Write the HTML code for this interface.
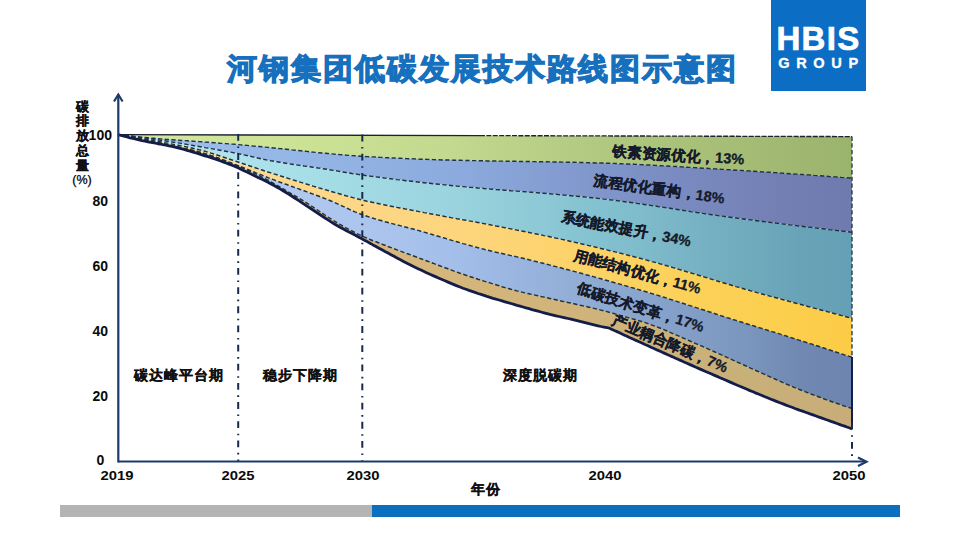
<!DOCTYPE html>
<html><head><meta charset="utf-8"><title>河钢集团低碳发展技术路线图示意图</title>
<style>
*{margin:0;padding:0;box-sizing:border-box}
html,body{width:960px;height:540px;overflow:hidden;background:#fff}
body{position:relative;font-family:"Liberation Sans",sans-serif;color:#111}
i{font-style:normal;display:inline-block;text-align:center;width:var(--w,1em)}
svg.chart{position:absolute;left:0;top:0}
.title{position:absolute;left:226.2px;top:49.3px;font-size:30px;font-weight:bold;color:#1770bd;white-space:nowrap;line-height:40px;--w:31.95px;-webkit-text-stroke:1.2px #1770bd}
.logo{position:absolute;left:771px;top:0;width:95px;height:91px;background:#0b6dc3;color:#fff;text-align:center}
.logo .h{position:absolute;left:0;width:95px;top:19.7px;font-size:33px;font-weight:bold;letter-spacing:1.3px;line-height:38px;-webkit-text-stroke:0.7px #fff}
.logo .g{position:absolute;left:3px;width:95px;top:53.5px;font-size:14.6px;font-weight:bold;letter-spacing:6.6px;line-height:18px;-webkit-text-stroke:0.3px #fff}
.t{position:absolute;white-space:nowrap;font-weight:bold;line-height:1}
.yn2{}
.pc{display:block;font-weight:normal;font-size:12.5px;color:#000;-webkit-text-stroke:0.25px #000 !important;margin-left:-4px;width:24px;line-height:14px}
.yl{position:absolute;left:74px;top:99.5px;width:16px;font-size:13px;font-weight:bold;line-height:14.8px;text-align:center;color:#111;-webkit-text-stroke:0.3px #111}
.yn{position:absolute;left:70.3px;width:60px;text-align:center;font-size:14px;font-weight:bold;line-height:16px;color:#0a0a0a}
.xn{position:absolute;top:467.8px;width:60px;text-align:center;font-size:13.5px;transform:scaleX(1.1);font-weight:bold;line-height:16px;color:#0a0a0a}
.rl{position:absolute;white-space:nowrap;font-weight:bold;line-height:1;color:#151a2a;transform-origin:0 0;--w:14.7px;-webkit-text-stroke:0.3px #151a2a}
.per{position:absolute;top:367.5px;font-size:13.5px;font-weight:bold;line-height:16px;white-space:nowrap;color:#111;--w:15.1px;-webkit-text-stroke:0.3px #111}
.bar1{position:absolute;left:60px;top:505px;width:312px;height:11.5px;background:#b4b4b4}
.bar2{position:absolute;left:372px;top:505px;width:528px;height:11.5px;background:#0b6fc0}
</style></head><body>
<div class="title" id="title"><i>河</i><i>钢</i><i>集</i><i>团</i><i>低</i><i>碳</i><i>发</i><i>展</i><i>技</i><i>术</i><i>路</i><i>线</i><i>图</i><i>示</i><i>意</i><i>图</i></div>
<div class="logo"><div class="h" id="HBIS">HBIS</div><div class="g" id="GROUP">GROUP</div></div>
<svg class="chart" width="960" height="540" viewBox="0 0 960 540">
<defs>
<linearGradient id="g1" gradientUnits="userSpaceOnUse" x1="118" y1="0" x2="852" y2="0"><stop offset="0" stop-color="#d5e7a5"/><stop offset="0.234" stop-color="#cce294"/><stop offset="0.452" stop-color="#c3d98f"/><stop offset="0.657" stop-color="#b1c880"/><stop offset="0.929" stop-color="#9fb770"/><stop offset="1" stop-color="#9bb46c"/></linearGradient>
<linearGradient id="g2" gradientUnits="userSpaceOnUse" x1="118" y1="0" x2="852" y2="0"><stop offset="0" stop-color="#a2c3ef"/><stop offset="0.18" stop-color="#97b9e8"/><stop offset="0.4" stop-color="#8eaee0"/><stop offset="0.47" stop-color="#8caadd"/><stop offset="0.752" stop-color="#7a8cc2"/><stop offset="0.929" stop-color="#727db1"/><stop offset="1" stop-color="#6f7aae"/></linearGradient>
<linearGradient id="g3" gradientUnits="userSpaceOnUse" x1="118" y1="0" x2="852" y2="0"><stop offset="0" stop-color="#bfe9f2"/><stop offset="0.2" stop-color="#aae1eb"/><stop offset="0.452" stop-color="#9bd4de"/><stop offset="0.67" stop-color="#82c0cf"/><stop offset="0.861" stop-color="#70aabd"/><stop offset="0.929" stop-color="#69a3b8"/><stop offset="1" stop-color="#64a0b5"/></linearGradient>
<linearGradient id="g4" gradientUnits="userSpaceOnUse" x1="118" y1="0" x2="852" y2="0"><stop offset="0" stop-color="#fbdc96"/><stop offset="0.25" stop-color="#fcd88a"/><stop offset="0.452" stop-color="#fdd57e"/><stop offset="0.74" stop-color="#fbd25c"/><stop offset="0.929" stop-color="#fcce4c"/><stop offset="1" stop-color="#fccc46"/></linearGradient>
<linearGradient id="g5" gradientUnits="userSpaceOnUse" x1="118" y1="0" x2="852" y2="0"><stop offset="0" stop-color="#b8d0f4"/><stop offset="0.25" stop-color="#b0c8f0"/><stop offset="0.384" stop-color="#a9c3ec"/><stop offset="0.452" stop-color="#a3bfea"/><stop offset="0.861" stop-color="#7a96bd"/><stop offset="0.929" stop-color="#7088b2"/><stop offset="1" stop-color="#6c84af"/></linearGradient>
<linearGradient id="g6" gradientUnits="userSpaceOnUse" x1="118" y1="0" x2="852" y2="0"><stop offset="0" stop-color="#d6b880"/><stop offset="0.452" stop-color="#d5b67b"/><stop offset="0.861" stop-color="#c8b079"/><stop offset="1" stop-color="#c8ad78"/></linearGradient>
</defs>
<path d="M118.0,134.6 L852.0,136.6 L852.0,178.2 L850.0,178.0 L847.0,177.8 L844.0,177.6 L841.0,177.4 L838.0,177.1 L835.0,176.9 L832.0,176.7 L829.0,176.5 L826.0,176.2 L823.0,176.0 L820.0,175.8 L817.0,175.6 L814.0,175.4 L811.0,175.1 L808.0,174.9 L805.0,174.7 L802.0,174.5 L799.0,174.3 L796.0,174.1 L793.0,173.9 L790.0,173.7 L787.0,173.5 L784.0,173.3 L781.0,173.1 L778.0,172.8 L775.0,172.6 L772.0,172.4 L769.0,172.2 L766.0,172.1 L763.0,171.9 L760.0,171.7 L757.0,171.5 L754.0,171.3 L751.0,171.1 L748.0,170.9 L745.0,170.7 L742.0,170.5 L739.0,170.3 L736.0,170.2 L733.0,170.0 L730.0,169.8 L727.0,169.6 L724.0,169.4 L721.0,169.3 L718.0,169.1 L715.0,168.9 L712.0,168.7 L709.0,168.5 L706.0,168.3 L703.0,168.2 L700.0,168.0 L697.0,167.8 L694.0,167.6 L691.0,167.4 L688.0,167.3 L685.0,167.1 L682.0,166.9 L679.0,166.7 L676.0,166.5 L673.0,166.4 L670.0,166.2 L667.0,166.0 L664.0,165.9 L661.0,165.7 L658.0,165.5 L655.0,165.4 L652.0,165.2 L649.0,165.0 L646.0,164.9 L643.0,164.7 L640.0,164.6 L637.0,164.4 L634.0,164.3 L631.0,164.2 L628.0,164.0 L625.0,163.9 L622.0,163.8 L619.0,163.7 L616.0,163.5 L613.0,163.4 L610.0,163.3 L607.0,163.2 L604.0,163.1 L601.0,163.0 L598.0,162.9 L595.0,162.9 L592.0,162.8 L589.0,162.7 L586.0,162.6 L583.0,162.5 L580.0,162.5 L577.0,162.4 L574.0,162.3 L571.0,162.3 L568.0,162.2 L565.0,162.2 L562.0,162.1 L559.0,162.0 L556.0,162.0 L553.0,161.9 L550.0,161.9 L547.0,161.8 L544.0,161.8 L541.0,161.7 L538.0,161.7 L535.0,161.6 L532.0,161.6 L529.0,161.5 L526.0,161.5 L523.0,161.4 L520.0,161.4 L517.0,161.3 L514.0,161.3 L511.0,161.3 L508.0,161.2 L505.0,161.2 L502.0,161.1 L499.0,161.1 L496.0,161.0 L493.0,161.0 L490.0,160.9 L487.0,160.9 L484.0,160.8 L481.0,160.7 L478.0,160.7 L475.0,160.6 L472.0,160.6 L469.0,160.5 L466.0,160.4 L463.0,160.4 L460.0,160.3 L457.0,160.2 L454.0,160.2 L451.0,160.1 L448.0,160.0 L445.0,159.9 L442.0,159.9 L439.0,159.8 L436.0,159.7 L433.0,159.6 L430.0,159.5 L427.0,159.4 L424.0,159.3 L421.0,159.2 L418.0,159.1 L415.0,158.9 L412.0,158.8 L409.0,158.7 L406.0,158.6 L403.0,158.4 L400.0,158.3 L397.0,158.2 L394.0,158.0 L391.0,157.9 L388.0,157.7 L385.0,157.6 L382.0,157.4 L379.0,157.3 L376.0,157.1 L373.0,156.9 L370.0,156.8 L367.0,156.6 L364.0,156.4 L361.0,156.2 L358.0,156.0 L355.0,155.8 L352.0,155.6 L349.0,155.4 L346.0,155.1 L343.0,154.9 L340.0,154.6 L337.0,154.3 L334.0,154.1 L331.0,153.8 L328.0,153.5 L325.0,153.2 L322.0,153.0 L319.0,152.7 L316.0,152.4 L313.0,152.1 L310.0,151.8 L307.0,151.4 L304.0,151.1 L301.0,150.8 L298.0,150.5 L295.0,150.2 L292.0,149.9 L289.0,149.5 L286.0,149.2 L283.0,148.9 L280.0,148.6 L277.0,148.3 L274.0,148.0 L271.0,147.7 L268.0,147.4 L265.0,147.1 L262.0,146.8 L259.0,146.5 L256.0,146.2 L253.0,146.0 L250.0,145.7 L247.0,145.4 L244.0,145.1 L241.0,144.9 L238.0,144.6 L235.0,144.3 L232.0,144.1 L229.0,143.9 L226.0,143.6 L223.0,143.4 L220.0,143.2 L217.0,142.9 L214.0,142.7 L211.0,142.5 L208.0,142.3 L205.0,142.1 L202.0,141.8 L199.0,141.6 L196.0,141.4 L193.0,141.2 L190.0,141.0 L187.0,140.8 L184.0,140.6 L181.0,140.5 L178.0,140.3 L175.0,140.0 L172.0,139.8 L169.0,139.6 L166.0,139.4 L163.0,139.1 L160.0,138.9 L157.0,138.6 L154.0,138.3 L151.0,138.1 L148.0,137.8 L145.0,137.5 L142.0,137.2 L139.0,136.9 L136.0,136.6 L133.0,136.3 L130.0,135.9 L127.0,135.6 L124.0,135.3 L121.0,134.9 L118.0,134.6 Z" fill="url(#g1)"/>
<path d="M118.0,134.6 L121.0,134.9 L124.0,135.3 L127.0,135.6 L130.0,135.9 L133.0,136.3 L136.0,136.6 L139.0,136.9 L142.0,137.2 L145.0,137.5 L148.0,137.8 L151.0,138.1 L154.0,138.3 L157.0,138.6 L160.0,138.9 L163.0,139.1 L166.0,139.4 L169.0,139.6 L172.0,139.8 L175.0,140.0 L178.0,140.3 L181.0,140.5 L184.0,140.6 L187.0,140.8 L190.0,141.0 L193.0,141.2 L196.0,141.4 L199.0,141.6 L202.0,141.8 L205.0,142.1 L208.0,142.3 L211.0,142.5 L214.0,142.7 L217.0,142.9 L220.0,143.2 L223.0,143.4 L226.0,143.6 L229.0,143.9 L232.0,144.1 L235.0,144.3 L238.0,144.6 L241.0,144.9 L244.0,145.1 L247.0,145.4 L250.0,145.7 L253.0,146.0 L256.0,146.2 L259.0,146.5 L262.0,146.8 L265.0,147.1 L268.0,147.4 L271.0,147.7 L274.0,148.0 L277.0,148.3 L280.0,148.6 L283.0,148.9 L286.0,149.2 L289.0,149.5 L292.0,149.9 L295.0,150.2 L298.0,150.5 L301.0,150.8 L304.0,151.1 L307.0,151.4 L310.0,151.8 L313.0,152.1 L316.0,152.4 L319.0,152.7 L322.0,153.0 L325.0,153.2 L328.0,153.5 L331.0,153.8 L334.0,154.1 L337.0,154.3 L340.0,154.6 L343.0,154.9 L346.0,155.1 L349.0,155.4 L352.0,155.6 L355.0,155.8 L358.0,156.0 L361.0,156.2 L364.0,156.4 L367.0,156.6 L370.0,156.8 L373.0,156.9 L376.0,157.1 L379.0,157.3 L382.0,157.4 L385.0,157.6 L388.0,157.7 L391.0,157.9 L394.0,158.0 L397.0,158.2 L400.0,158.3 L403.0,158.4 L406.0,158.6 L409.0,158.7 L412.0,158.8 L415.0,158.9 L418.0,159.1 L421.0,159.2 L424.0,159.3 L427.0,159.4 L430.0,159.5 L433.0,159.6 L436.0,159.7 L439.0,159.8 L442.0,159.9 L445.0,159.9 L448.0,160.0 L451.0,160.1 L454.0,160.2 L457.0,160.2 L460.0,160.3 L463.0,160.4 L466.0,160.4 L469.0,160.5 L472.0,160.6 L475.0,160.6 L478.0,160.7 L481.0,160.7 L484.0,160.8 L487.0,160.9 L490.0,160.9 L493.0,161.0 L496.0,161.0 L499.0,161.1 L502.0,161.1 L505.0,161.2 L508.0,161.2 L511.0,161.3 L514.0,161.3 L517.0,161.3 L520.0,161.4 L523.0,161.4 L526.0,161.5 L529.0,161.5 L532.0,161.6 L535.0,161.6 L538.0,161.7 L541.0,161.7 L544.0,161.8 L547.0,161.8 L550.0,161.9 L553.0,161.9 L556.0,162.0 L559.0,162.0 L562.0,162.1 L565.0,162.2 L568.0,162.2 L571.0,162.3 L574.0,162.3 L577.0,162.4 L580.0,162.5 L583.0,162.5 L586.0,162.6 L589.0,162.7 L592.0,162.8 L595.0,162.9 L598.0,162.9 L601.0,163.0 L604.0,163.1 L607.0,163.2 L610.0,163.3 L613.0,163.4 L616.0,163.5 L619.0,163.7 L622.0,163.8 L625.0,163.9 L628.0,164.0 L631.0,164.2 L634.0,164.3 L637.0,164.4 L640.0,164.6 L643.0,164.7 L646.0,164.9 L649.0,165.0 L652.0,165.2 L655.0,165.4 L658.0,165.5 L661.0,165.7 L664.0,165.9 L667.0,166.0 L670.0,166.2 L673.0,166.4 L676.0,166.5 L679.0,166.7 L682.0,166.9 L685.0,167.1 L688.0,167.3 L691.0,167.4 L694.0,167.6 L697.0,167.8 L700.0,168.0 L703.0,168.2 L706.0,168.3 L709.0,168.5 L712.0,168.7 L715.0,168.9 L718.0,169.1 L721.0,169.3 L724.0,169.4 L727.0,169.6 L730.0,169.8 L733.0,170.0 L736.0,170.2 L739.0,170.3 L742.0,170.5 L745.0,170.7 L748.0,170.9 L751.0,171.1 L754.0,171.3 L757.0,171.5 L760.0,171.7 L763.0,171.9 L766.0,172.1 L769.0,172.2 L772.0,172.4 L775.0,172.6 L778.0,172.8 L781.0,173.1 L784.0,173.3 L787.0,173.5 L790.0,173.7 L793.0,173.9 L796.0,174.1 L799.0,174.3 L802.0,174.5 L805.0,174.7 L808.0,174.9 L811.0,175.1 L814.0,175.4 L817.0,175.6 L820.0,175.8 L823.0,176.0 L826.0,176.2 L829.0,176.5 L832.0,176.7 L835.0,176.9 L838.0,177.1 L841.0,177.4 L844.0,177.6 L847.0,177.8 L850.0,178.0 L852.0,178.2 L852.0,232.2 L850.0,232.0 L847.0,231.6 L844.0,231.3 L841.0,230.9 L838.0,230.6 L835.0,230.3 L832.0,229.9 L829.0,229.6 L826.0,229.2 L823.0,228.8 L820.0,228.5 L817.0,228.1 L814.0,227.8 L811.0,227.4 L808.0,227.1 L805.0,226.7 L802.0,226.3 L799.0,226.0 L796.0,225.6 L793.0,225.2 L790.0,224.9 L787.0,224.5 L784.0,224.1 L781.0,223.8 L778.0,223.4 L775.0,223.0 L772.0,222.6 L769.0,222.2 L766.0,221.9 L763.0,221.5 L760.0,221.1 L757.0,220.7 L754.0,220.3 L751.0,219.9 L748.0,219.6 L745.0,219.2 L742.0,218.8 L739.0,218.4 L736.0,218.0 L733.0,217.6 L730.0,217.2 L727.0,216.8 L724.0,216.4 L721.0,216.0 L718.0,215.6 L715.0,215.1 L712.0,214.7 L709.0,214.3 L706.0,213.8 L703.0,213.4 L700.0,212.9 L697.0,212.5 L694.0,212.0 L691.0,211.6 L688.0,211.1 L685.0,210.6 L682.0,210.2 L679.0,209.7 L676.0,209.2 L673.0,208.8 L670.0,208.3 L667.0,207.9 L664.0,207.4 L661.0,206.9 L658.0,206.5 L655.0,206.0 L652.0,205.6 L649.0,205.1 L646.0,204.7 L643.0,204.2 L640.0,203.8 L637.0,203.4 L634.0,202.9 L631.0,202.5 L628.0,202.1 L625.0,201.7 L622.0,201.3 L619.0,200.9 L616.0,200.5 L613.0,200.1 L610.0,199.8 L607.0,199.4 L604.0,199.1 L601.0,198.7 L598.0,198.4 L595.0,198.1 L592.0,197.7 L589.0,197.4 L586.0,197.1 L583.0,196.8 L580.0,196.5 L577.0,196.2 L574.0,196.0 L571.0,195.7 L568.0,195.4 L565.0,195.1 L562.0,194.9 L559.0,194.6 L556.0,194.3 L553.0,194.1 L550.0,193.8 L547.0,193.6 L544.0,193.3 L541.0,193.1 L538.0,192.8 L535.0,192.6 L532.0,192.3 L529.0,192.1 L526.0,191.8 L523.0,191.6 L520.0,191.4 L517.0,191.1 L514.0,190.9 L511.0,190.7 L508.0,190.4 L505.0,190.2 L502.0,189.9 L499.0,189.7 L496.0,189.5 L493.0,189.2 L490.0,189.0 L487.0,188.7 L484.0,188.5 L481.0,188.2 L478.0,188.0 L475.0,187.7 L472.0,187.4 L469.0,187.2 L466.0,186.9 L463.0,186.6 L460.0,186.4 L457.0,186.1 L454.0,185.8 L451.0,185.5 L448.0,185.2 L445.0,184.9 L442.0,184.6 L439.0,184.3 L436.0,184.0 L433.0,183.7 L430.0,183.3 L427.0,183.0 L424.0,182.7 L421.0,182.4 L418.0,182.0 L415.0,181.7 L412.0,181.3 L409.0,181.0 L406.0,180.7 L403.0,180.3 L400.0,179.9 L397.0,179.6 L394.0,179.2 L391.0,178.8 L388.0,178.5 L385.0,178.1 L382.0,177.7 L379.0,177.3 L376.0,176.9 L373.0,176.5 L370.0,176.1 L367.0,175.7 L364.0,175.3 L361.0,174.9 L358.0,174.4 L355.0,173.9 L352.0,173.5 L349.0,173.0 L346.0,172.5 L343.0,172.0 L340.0,171.5 L337.0,170.9 L334.0,170.4 L331.0,170.0 L328.0,169.5 L325.0,169.0 L322.0,168.6 L319.0,168.1 L316.0,167.7 L313.0,167.3 L310.0,166.8 L307.0,166.4 L304.0,166.0 L301.0,165.5 L298.0,165.1 L295.0,164.7 L292.0,164.2 L289.0,163.8 L286.0,163.3 L283.0,162.8 L280.0,162.3 L277.0,161.8 L274.0,161.3 L271.0,160.8 L268.0,160.2 L265.0,159.6 L262.0,159.0 L259.0,158.3 L256.0,157.6 L253.0,156.9 L250.0,156.2 L247.0,155.5 L244.0,154.9 L241.0,154.2 L238.0,153.6 L235.0,153.0 L232.0,152.4 L229.0,151.9 L226.0,151.3 L223.0,150.8 L220.0,150.2 L217.0,149.7 L214.0,149.1 L211.0,148.6 L208.0,148.1 L205.0,147.6 L202.0,147.0 L199.0,146.5 L196.0,146.0 L193.0,145.5 L190.0,145.0 L187.0,144.4 L184.0,143.9 L181.0,143.4 L178.0,142.9 L175.0,142.4 L172.0,142.0 L169.0,141.5 L166.0,141.0 L163.0,140.6 L160.0,140.2 L157.0,139.7 L154.0,139.3 L151.0,138.9 L148.0,138.4 L145.0,138.0 L142.0,137.6 L139.0,137.2 L136.0,136.8 L133.0,136.4 L130.0,136.0 L127.0,135.7 L124.0,135.3 L121.0,134.9 L118.0,134.6 Z" fill="url(#g2)"/>
<path d="M118.0,134.6 L121.0,134.9 L124.0,135.3 L127.0,135.7 L130.0,136.0 L133.0,136.4 L136.0,136.8 L139.0,137.2 L142.0,137.6 L145.0,138.0 L148.0,138.4 L151.0,138.9 L154.0,139.3 L157.0,139.7 L160.0,140.2 L163.0,140.6 L166.0,141.0 L169.0,141.5 L172.0,142.0 L175.0,142.4 L178.0,142.9 L181.0,143.4 L184.0,143.9 L187.0,144.4 L190.0,145.0 L193.0,145.5 L196.0,146.0 L199.0,146.5 L202.0,147.0 L205.0,147.6 L208.0,148.1 L211.0,148.6 L214.0,149.1 L217.0,149.7 L220.0,150.2 L223.0,150.8 L226.0,151.3 L229.0,151.9 L232.0,152.4 L235.0,153.0 L238.0,153.6 L241.0,154.2 L244.0,154.9 L247.0,155.5 L250.0,156.2 L253.0,156.9 L256.0,157.6 L259.0,158.3 L262.0,159.0 L265.0,159.6 L268.0,160.2 L271.0,160.8 L274.0,161.3 L277.0,161.8 L280.0,162.3 L283.0,162.8 L286.0,163.3 L289.0,163.8 L292.0,164.2 L295.0,164.7 L298.0,165.1 L301.0,165.5 L304.0,166.0 L307.0,166.4 L310.0,166.8 L313.0,167.3 L316.0,167.7 L319.0,168.1 L322.0,168.6 L325.0,169.0 L328.0,169.5 L331.0,170.0 L334.0,170.4 L337.0,170.9 L340.0,171.5 L343.0,172.0 L346.0,172.5 L349.0,173.0 L352.0,173.5 L355.0,173.9 L358.0,174.4 L361.0,174.9 L364.0,175.3 L367.0,175.7 L370.0,176.1 L373.0,176.5 L376.0,176.9 L379.0,177.3 L382.0,177.7 L385.0,178.1 L388.0,178.5 L391.0,178.8 L394.0,179.2 L397.0,179.6 L400.0,179.9 L403.0,180.3 L406.0,180.7 L409.0,181.0 L412.0,181.3 L415.0,181.7 L418.0,182.0 L421.0,182.4 L424.0,182.7 L427.0,183.0 L430.0,183.3 L433.0,183.7 L436.0,184.0 L439.0,184.3 L442.0,184.6 L445.0,184.9 L448.0,185.2 L451.0,185.5 L454.0,185.8 L457.0,186.1 L460.0,186.4 L463.0,186.6 L466.0,186.9 L469.0,187.2 L472.0,187.4 L475.0,187.7 L478.0,188.0 L481.0,188.2 L484.0,188.5 L487.0,188.7 L490.0,189.0 L493.0,189.2 L496.0,189.5 L499.0,189.7 L502.0,189.9 L505.0,190.2 L508.0,190.4 L511.0,190.7 L514.0,190.9 L517.0,191.1 L520.0,191.4 L523.0,191.6 L526.0,191.8 L529.0,192.1 L532.0,192.3 L535.0,192.6 L538.0,192.8 L541.0,193.1 L544.0,193.3 L547.0,193.6 L550.0,193.8 L553.0,194.1 L556.0,194.3 L559.0,194.6 L562.0,194.9 L565.0,195.1 L568.0,195.4 L571.0,195.7 L574.0,196.0 L577.0,196.2 L580.0,196.5 L583.0,196.8 L586.0,197.1 L589.0,197.4 L592.0,197.7 L595.0,198.1 L598.0,198.4 L601.0,198.7 L604.0,199.1 L607.0,199.4 L610.0,199.8 L613.0,200.1 L616.0,200.5 L619.0,200.9 L622.0,201.3 L625.0,201.7 L628.0,202.1 L631.0,202.5 L634.0,202.9 L637.0,203.4 L640.0,203.8 L643.0,204.2 L646.0,204.7 L649.0,205.1 L652.0,205.6 L655.0,206.0 L658.0,206.5 L661.0,206.9 L664.0,207.4 L667.0,207.9 L670.0,208.3 L673.0,208.8 L676.0,209.2 L679.0,209.7 L682.0,210.2 L685.0,210.6 L688.0,211.1 L691.0,211.6 L694.0,212.0 L697.0,212.5 L700.0,212.9 L703.0,213.4 L706.0,213.8 L709.0,214.3 L712.0,214.7 L715.0,215.1 L718.0,215.6 L721.0,216.0 L724.0,216.4 L727.0,216.8 L730.0,217.2 L733.0,217.6 L736.0,218.0 L739.0,218.4 L742.0,218.8 L745.0,219.2 L748.0,219.6 L751.0,219.9 L754.0,220.3 L757.0,220.7 L760.0,221.1 L763.0,221.5 L766.0,221.9 L769.0,222.2 L772.0,222.6 L775.0,223.0 L778.0,223.4 L781.0,223.8 L784.0,224.1 L787.0,224.5 L790.0,224.9 L793.0,225.2 L796.0,225.6 L799.0,226.0 L802.0,226.3 L805.0,226.7 L808.0,227.1 L811.0,227.4 L814.0,227.8 L817.0,228.1 L820.0,228.5 L823.0,228.8 L826.0,229.2 L829.0,229.6 L832.0,229.9 L835.0,230.3 L838.0,230.6 L841.0,230.9 L844.0,231.3 L847.0,231.6 L850.0,232.0 L852.0,232.2 L852.0,318.3 L850.0,317.8 L847.0,317.0 L844.0,316.2 L841.0,315.4 L838.0,314.6 L835.0,313.8 L832.0,312.9 L829.0,312.1 L826.0,311.3 L823.0,310.5 L820.0,309.7 L817.0,308.9 L814.0,308.1 L811.0,307.3 L808.0,306.5 L805.0,305.7 L802.0,304.8 L799.0,304.0 L796.0,303.2 L793.0,302.4 L790.0,301.6 L787.0,300.8 L784.0,300.0 L781.0,299.1 L778.0,298.3 L775.0,297.5 L772.0,296.7 L769.0,295.9 L766.0,295.1 L763.0,294.2 L760.0,293.4 L757.0,292.6 L754.0,291.7 L751.0,290.9 L748.0,290.0 L745.0,289.2 L742.0,288.3 L739.0,287.4 L736.0,286.6 L733.0,285.7 L730.0,284.8 L727.0,283.9 L724.0,283.0 L721.0,282.1 L718.0,281.2 L715.0,280.3 L712.0,279.4 L709.0,278.5 L706.0,277.5 L703.0,276.6 L700.0,275.7 L697.0,274.8 L694.0,273.9 L691.0,273.0 L688.0,272.1 L685.0,271.2 L682.0,270.3 L679.0,269.4 L676.0,268.5 L673.0,267.6 L670.0,266.7 L667.0,265.8 L664.0,265.0 L661.0,264.1 L658.0,263.2 L655.0,262.4 L652.0,261.6 L649.0,260.7 L646.0,259.9 L643.0,259.1 L640.0,258.3 L637.0,257.5 L634.0,256.7 L631.0,256.0 L628.0,255.2 L625.0,254.4 L622.0,253.6 L619.0,252.9 L616.0,252.1 L613.0,251.4 L610.0,250.7 L607.0,249.9 L604.0,249.2 L601.0,248.5 L598.0,247.7 L595.0,247.0 L592.0,246.3 L589.0,245.6 L586.0,244.9 L583.0,244.2 L580.0,243.5 L577.0,242.8 L574.0,242.1 L571.0,241.5 L568.0,240.8 L565.0,240.1 L562.0,239.4 L559.0,238.8 L556.0,238.1 L553.0,237.5 L550.0,236.8 L547.0,236.2 L544.0,235.6 L541.0,234.9 L538.0,234.3 L535.0,233.7 L532.0,233.1 L529.0,232.5 L526.0,231.9 L523.0,231.3 L520.0,230.7 L517.0,230.1 L514.0,229.5 L511.0,228.9 L508.0,228.3 L505.0,227.7 L502.0,227.1 L499.0,226.5 L496.0,226.0 L493.0,225.4 L490.0,224.8 L487.0,224.2 L484.0,223.6 L481.0,223.1 L478.0,222.5 L475.0,222.0 L472.0,221.4 L469.0,220.9 L466.0,220.3 L463.0,219.8 L460.0,219.2 L457.0,218.7 L454.0,218.1 L451.0,217.6 L448.0,217.0 L445.0,216.5 L442.0,215.9 L439.0,215.4 L436.0,214.8 L433.0,214.3 L430.0,213.7 L427.0,213.1 L424.0,212.6 L421.0,212.0 L418.0,211.4 L415.0,210.8 L412.0,210.3 L409.0,209.7 L406.0,209.1 L403.0,208.5 L400.0,208.0 L397.0,207.4 L394.0,206.8 L391.0,206.2 L388.0,205.6 L385.0,205.0 L382.0,204.4 L379.0,203.8 L376.0,203.2 L373.0,202.5 L370.0,201.8 L367.0,201.2 L364.0,200.5 L361.0,199.8 L358.0,199.0 L355.0,198.2 L352.0,197.4 L349.0,196.6 L346.0,195.8 L343.0,194.9 L340.0,194.0 L337.0,193.1 L334.0,192.3 L331.0,191.4 L328.0,190.5 L325.0,189.6 L322.0,188.7 L319.0,187.9 L316.0,187.0 L313.0,186.1 L310.0,185.1 L307.0,184.2 L304.0,183.3 L301.0,182.4 L298.0,181.5 L295.0,180.5 L292.0,179.6 L289.0,178.6 L286.0,177.7 L283.0,176.7 L280.0,175.8 L277.0,174.8 L274.0,173.9 L271.0,172.9 L268.0,172.0 L265.0,171.0 L262.0,170.0 L259.0,169.0 L256.0,168.0 L253.0,167.0 L250.0,166.0 L247.0,165.0 L244.0,164.0 L241.0,163.0 L238.0,162.0 L235.0,161.0 L232.0,160.0 L229.0,159.0 L226.0,158.0 L223.0,157.0 L220.0,156.0 L217.0,155.0 L214.0,154.0 L211.0,153.1 L208.0,152.2 L205.0,151.3 L202.0,150.5 L199.0,149.8 L196.0,149.0 L193.0,148.3 L190.0,147.7 L187.0,147.0 L184.0,146.4 L181.0,145.8 L178.0,145.2 L175.0,144.7 L172.0,144.1 L169.0,143.5 L166.0,142.9 L163.0,142.4 L160.0,141.8 L157.0,141.2 L154.0,140.7 L151.0,140.1 L148.0,139.6 L145.0,139.1 L142.0,138.5 L139.0,138.0 L136.0,137.5 L133.0,137.0 L130.0,136.5 L127.0,136.0 L124.0,135.5 L121.0,135.1 L118.0,134.6 Z" fill="url(#g3)"/>
<path d="M118.0,134.6 L121.0,135.1 L124.0,135.5 L127.0,136.0 L130.0,136.5 L133.0,137.0 L136.0,137.5 L139.0,138.0 L142.0,138.5 L145.0,139.1 L148.0,139.6 L151.0,140.1 L154.0,140.7 L157.0,141.2 L160.0,141.8 L163.0,142.4 L166.0,142.9 L169.0,143.5 L172.0,144.1 L175.0,144.7 L178.0,145.2 L181.0,145.8 L184.0,146.4 L187.0,147.0 L190.0,147.7 L193.0,148.3 L196.0,149.0 L199.0,149.8 L202.0,150.5 L205.0,151.3 L208.0,152.2 L211.0,153.1 L214.0,154.0 L217.0,155.0 L220.0,156.0 L223.0,157.0 L226.0,158.0 L229.0,159.0 L232.0,160.0 L235.0,161.0 L238.0,162.0 L241.0,163.0 L244.0,164.0 L247.0,165.0 L250.0,166.0 L253.0,167.0 L256.0,168.0 L259.0,169.0 L262.0,170.0 L265.0,171.0 L268.0,172.0 L271.0,172.9 L274.0,173.9 L277.0,174.8 L280.0,175.8 L283.0,176.7 L286.0,177.7 L289.0,178.6 L292.0,179.6 L295.0,180.5 L298.0,181.5 L301.0,182.4 L304.0,183.3 L307.0,184.2 L310.0,185.1 L313.0,186.1 L316.0,187.0 L319.0,187.9 L322.0,188.7 L325.0,189.6 L328.0,190.5 L331.0,191.4 L334.0,192.3 L337.0,193.1 L340.0,194.0 L343.0,194.9 L346.0,195.8 L349.0,196.6 L352.0,197.4 L355.0,198.2 L358.0,199.0 L361.0,199.8 L364.0,200.5 L367.0,201.2 L370.0,201.8 L373.0,202.5 L376.0,203.2 L379.0,203.8 L382.0,204.4 L385.0,205.0 L388.0,205.6 L391.0,206.2 L394.0,206.8 L397.0,207.4 L400.0,208.0 L403.0,208.5 L406.0,209.1 L409.0,209.7 L412.0,210.3 L415.0,210.8 L418.0,211.4 L421.0,212.0 L424.0,212.6 L427.0,213.1 L430.0,213.7 L433.0,214.3 L436.0,214.8 L439.0,215.4 L442.0,215.9 L445.0,216.5 L448.0,217.0 L451.0,217.6 L454.0,218.1 L457.0,218.7 L460.0,219.2 L463.0,219.8 L466.0,220.3 L469.0,220.9 L472.0,221.4 L475.0,222.0 L478.0,222.5 L481.0,223.1 L484.0,223.6 L487.0,224.2 L490.0,224.8 L493.0,225.4 L496.0,226.0 L499.0,226.5 L502.0,227.1 L505.0,227.7 L508.0,228.3 L511.0,228.9 L514.0,229.5 L517.0,230.1 L520.0,230.7 L523.0,231.3 L526.0,231.9 L529.0,232.5 L532.0,233.1 L535.0,233.7 L538.0,234.3 L541.0,234.9 L544.0,235.6 L547.0,236.2 L550.0,236.8 L553.0,237.5 L556.0,238.1 L559.0,238.8 L562.0,239.4 L565.0,240.1 L568.0,240.8 L571.0,241.5 L574.0,242.1 L577.0,242.8 L580.0,243.5 L583.0,244.2 L586.0,244.9 L589.0,245.6 L592.0,246.3 L595.0,247.0 L598.0,247.7 L601.0,248.5 L604.0,249.2 L607.0,249.9 L610.0,250.7 L613.0,251.4 L616.0,252.1 L619.0,252.9 L622.0,253.6 L625.0,254.4 L628.0,255.2 L631.0,256.0 L634.0,256.7 L637.0,257.5 L640.0,258.3 L643.0,259.1 L646.0,259.9 L649.0,260.7 L652.0,261.6 L655.0,262.4 L658.0,263.2 L661.0,264.1 L664.0,265.0 L667.0,265.8 L670.0,266.7 L673.0,267.6 L676.0,268.5 L679.0,269.4 L682.0,270.3 L685.0,271.2 L688.0,272.1 L691.0,273.0 L694.0,273.9 L697.0,274.8 L700.0,275.7 L703.0,276.6 L706.0,277.5 L709.0,278.5 L712.0,279.4 L715.0,280.3 L718.0,281.2 L721.0,282.1 L724.0,283.0 L727.0,283.9 L730.0,284.8 L733.0,285.7 L736.0,286.6 L739.0,287.4 L742.0,288.3 L745.0,289.2 L748.0,290.0 L751.0,290.9 L754.0,291.7 L757.0,292.6 L760.0,293.4 L763.0,294.2 L766.0,295.1 L769.0,295.9 L772.0,296.7 L775.0,297.5 L778.0,298.3 L781.0,299.1 L784.0,300.0 L787.0,300.8 L790.0,301.6 L793.0,302.4 L796.0,303.2 L799.0,304.0 L802.0,304.8 L805.0,305.7 L808.0,306.5 L811.0,307.3 L814.0,308.1 L817.0,308.9 L820.0,309.7 L823.0,310.5 L826.0,311.3 L829.0,312.1 L832.0,312.9 L835.0,313.8 L838.0,314.6 L841.0,315.4 L844.0,316.2 L847.0,317.0 L850.0,317.8 L852.0,318.3 L852.0,357.3 L850.0,356.6 L847.0,355.6 L844.0,354.7 L841.0,353.7 L838.0,352.7 L835.0,351.7 L832.0,350.7 L829.0,349.7 L826.0,348.8 L823.0,347.8 L820.0,346.8 L817.0,345.8 L814.0,344.9 L811.0,343.9 L808.0,342.9 L805.0,342.0 L802.0,341.0 L799.0,340.1 L796.0,339.1 L793.0,338.2 L790.0,337.2 L787.0,336.3 L784.0,335.3 L781.0,334.4 L778.0,333.4 L775.0,332.5 L772.0,331.6 L769.0,330.7 L766.0,329.7 L763.0,328.8 L760.0,327.9 L757.0,327.0 L754.0,326.0 L751.0,325.1 L748.0,324.2 L745.0,323.3 L742.0,322.3 L739.0,321.4 L736.0,320.4 L733.0,319.5 L730.0,318.5 L727.0,317.6 L724.0,316.6 L721.0,315.7 L718.0,314.7 L715.0,313.7 L712.0,312.7 L709.0,311.8 L706.0,310.8 L703.0,309.8 L700.0,308.9 L697.0,307.9 L694.0,306.9 L691.0,305.9 L688.0,305.0 L685.0,304.0 L682.0,303.0 L679.0,302.1 L676.0,301.1 L673.0,300.1 L670.0,299.2 L667.0,298.2 L664.0,297.3 L661.0,296.4 L658.0,295.4 L655.0,294.5 L652.0,293.6 L649.0,292.7 L646.0,291.8 L643.0,290.9 L640.0,290.0 L637.0,289.1 L634.0,288.2 L631.0,287.4 L628.0,286.5 L625.0,285.6 L622.0,284.8 L619.0,283.9 L616.0,283.1 L613.0,282.2 L610.0,281.3 L607.0,280.5 L604.0,279.7 L601.0,278.8 L598.0,278.0 L595.0,277.1 L592.0,276.3 L589.0,275.5 L586.0,274.7 L583.0,273.8 L580.0,273.0 L577.0,272.2 L574.0,271.4 L571.0,270.6 L568.0,269.8 L565.0,269.0 L562.0,268.2 L559.0,267.4 L556.0,266.6 L553.0,265.9 L550.0,265.1 L547.0,264.3 L544.0,263.5 L541.0,262.8 L538.0,262.0 L535.0,261.3 L532.0,260.5 L529.0,259.8 L526.0,259.0 L523.0,258.3 L520.0,257.6 L517.0,256.9 L514.0,256.2 L511.0,255.6 L508.0,254.9 L505.0,254.2 L502.0,253.5 L499.0,252.8 L496.0,252.2 L493.0,251.5 L490.0,250.7 L487.0,250.0 L484.0,249.3 L481.0,248.5 L478.0,247.7 L475.0,246.9 L472.0,246.1 L469.0,245.2 L466.0,244.4 L463.0,243.6 L460.0,242.7 L457.0,241.8 L454.0,241.0 L451.0,240.1 L448.0,239.2 L445.0,238.3 L442.0,237.4 L439.0,236.5 L436.0,235.6 L433.0,234.8 L430.0,233.9 L427.0,233.0 L424.0,232.1 L421.0,231.3 L418.0,230.4 L415.0,229.6 L412.0,228.8 L409.0,228.0 L406.0,227.2 L403.0,226.4 L400.0,225.6 L397.0,224.9 L394.0,224.1 L391.0,223.3 L388.0,222.5 L385.0,221.7 L382.0,220.8 L379.0,220.0 L376.0,219.1 L373.0,218.2 L370.0,217.3 L367.0,216.3 L364.0,215.3 L361.0,214.2 L358.0,213.1 L355.0,211.9 L352.0,210.6 L349.0,209.2 L346.0,207.8 L343.0,206.4 L340.0,205.0 L337.0,203.6 L334.0,202.3 L331.0,201.0 L328.0,199.8 L325.0,198.6 L322.0,197.4 L319.0,196.3 L316.0,195.2 L313.0,194.1 L310.0,193.0 L307.0,191.9 L304.0,190.8 L301.0,189.7 L298.0,188.6 L295.0,187.6 L292.0,186.5 L289.0,185.4 L286.0,184.3 L283.0,183.3 L280.0,182.2 L277.0,181.1 L274.0,179.9 L271.0,178.8 L268.0,177.6 L265.0,176.4 L262.0,175.2 L259.0,174.0 L256.0,172.8 L253.0,171.5 L250.0,170.3 L247.0,169.1 L244.0,167.9 L241.0,166.7 L238.0,165.6 L235.0,164.5 L232.0,163.3 L229.0,162.2 L226.0,161.0 L223.0,159.9 L220.0,158.8 L217.0,157.7 L214.0,156.6 L211.0,155.6 L208.0,154.6 L205.0,153.7 L202.0,152.8 L199.0,151.9 L196.0,151.1 L193.0,150.4 L190.0,149.7 L187.0,149.0 L184.0,148.4 L181.0,147.7 L178.0,147.1 L175.0,146.5 L172.0,145.8 L169.0,145.2 L166.0,144.5 L163.0,143.9 L160.0,143.3 L157.0,142.6 L154.0,142.0 L151.0,141.3 L148.0,140.7 L145.0,140.1 L142.0,139.5 L139.0,138.8 L136.0,138.2 L133.0,137.6 L130.0,137.0 L127.0,136.4 L124.0,135.8 L121.0,135.2 L118.0,134.6 Z" fill="url(#g4)"/>
<path d="M118.0,134.6 L121.0,135.2 L124.0,135.8 L127.0,136.4 L130.0,137.0 L133.0,137.6 L136.0,138.2 L139.0,138.8 L142.0,139.5 L145.0,140.1 L148.0,140.7 L151.0,141.3 L154.0,142.0 L157.0,142.6 L160.0,143.3 L163.0,143.9 L166.0,144.5 L169.0,145.2 L172.0,145.8 L175.0,146.5 L178.0,147.1 L181.0,147.7 L184.0,148.4 L187.0,149.0 L190.0,149.7 L193.0,150.4 L196.0,151.1 L199.0,151.9 L202.0,152.8 L205.0,153.7 L208.0,154.6 L211.0,155.6 L214.0,156.6 L217.0,157.7 L220.0,158.8 L223.0,159.9 L226.0,161.0 L229.0,162.2 L232.0,163.3 L235.0,164.5 L238.0,165.6 L241.0,166.7 L244.0,167.9 L247.0,169.1 L250.0,170.3 L253.0,171.5 L256.0,172.8 L259.0,174.0 L262.0,175.2 L265.0,176.4 L268.0,177.6 L271.0,178.8 L274.0,179.9 L277.0,181.1 L280.0,182.2 L283.0,183.3 L286.0,184.3 L289.0,185.4 L292.0,186.5 L295.0,187.6 L298.0,188.6 L301.0,189.7 L304.0,190.8 L307.0,191.9 L310.0,193.0 L313.0,194.1 L316.0,195.2 L319.0,196.3 L322.0,197.4 L325.0,198.6 L328.0,199.8 L331.0,201.0 L334.0,202.3 L337.0,203.6 L340.0,205.0 L343.0,206.4 L346.0,207.8 L349.0,209.2 L352.0,210.6 L355.0,211.9 L358.0,213.1 L361.0,214.2 L364.0,215.3 L367.0,216.3 L370.0,217.3 L373.0,218.2 L376.0,219.1 L379.0,220.0 L382.0,220.8 L385.0,221.7 L388.0,222.5 L391.0,223.3 L394.0,224.1 L397.0,224.9 L400.0,225.6 L403.0,226.4 L406.0,227.2 L409.0,228.0 L412.0,228.8 L415.0,229.6 L418.0,230.4 L421.0,231.3 L424.0,232.1 L427.0,233.0 L430.0,233.9 L433.0,234.8 L436.0,235.6 L439.0,236.5 L442.0,237.4 L445.0,238.3 L448.0,239.2 L451.0,240.1 L454.0,241.0 L457.0,241.8 L460.0,242.7 L463.0,243.6 L466.0,244.4 L469.0,245.2 L472.0,246.1 L475.0,246.9 L478.0,247.7 L481.0,248.5 L484.0,249.3 L487.0,250.0 L490.0,250.7 L493.0,251.5 L496.0,252.2 L499.0,252.8 L502.0,253.5 L505.0,254.2 L508.0,254.9 L511.0,255.6 L514.0,256.2 L517.0,256.9 L520.0,257.6 L523.0,258.3 L526.0,259.0 L529.0,259.8 L532.0,260.5 L535.0,261.3 L538.0,262.0 L541.0,262.8 L544.0,263.5 L547.0,264.3 L550.0,265.1 L553.0,265.9 L556.0,266.6 L559.0,267.4 L562.0,268.2 L565.0,269.0 L568.0,269.8 L571.0,270.6 L574.0,271.4 L577.0,272.2 L580.0,273.0 L583.0,273.8 L586.0,274.7 L589.0,275.5 L592.0,276.3 L595.0,277.1 L598.0,278.0 L601.0,278.8 L604.0,279.7 L607.0,280.5 L610.0,281.3 L613.0,282.2 L616.0,283.1 L619.0,283.9 L622.0,284.8 L625.0,285.6 L628.0,286.5 L631.0,287.4 L634.0,288.2 L637.0,289.1 L640.0,290.0 L643.0,290.9 L646.0,291.8 L649.0,292.7 L652.0,293.6 L655.0,294.5 L658.0,295.4 L661.0,296.4 L664.0,297.3 L667.0,298.2 L670.0,299.2 L673.0,300.1 L676.0,301.1 L679.0,302.1 L682.0,303.0 L685.0,304.0 L688.0,305.0 L691.0,305.9 L694.0,306.9 L697.0,307.9 L700.0,308.9 L703.0,309.8 L706.0,310.8 L709.0,311.8 L712.0,312.7 L715.0,313.7 L718.0,314.7 L721.0,315.7 L724.0,316.6 L727.0,317.6 L730.0,318.5 L733.0,319.5 L736.0,320.4 L739.0,321.4 L742.0,322.3 L745.0,323.3 L748.0,324.2 L751.0,325.1 L754.0,326.0 L757.0,327.0 L760.0,327.9 L763.0,328.8 L766.0,329.7 L769.0,330.7 L772.0,331.6 L775.0,332.5 L778.0,333.4 L781.0,334.4 L784.0,335.3 L787.0,336.3 L790.0,337.2 L793.0,338.2 L796.0,339.1 L799.0,340.1 L802.0,341.0 L805.0,342.0 L808.0,342.9 L811.0,343.9 L814.0,344.9 L817.0,345.8 L820.0,346.8 L823.0,347.8 L826.0,348.8 L829.0,349.7 L832.0,350.7 L835.0,351.7 L838.0,352.7 L841.0,353.7 L844.0,354.7 L847.0,355.6 L850.0,356.6 L852.0,357.3 L852.0,428.9 L849.0,427.8 L846.0,426.7 L843.0,425.7 L840.0,424.6 L837.0,423.5 L834.0,422.4 L831.0,421.4 L828.0,420.3 L825.0,419.2 L822.0,418.1 L819.0,417.1 L816.0,416.0 L813.0,414.9 L810.0,413.9 L807.0,412.8 L804.0,411.7 L801.0,410.7 L798.0,409.6 L795.0,408.5 L792.0,407.3 L789.0,406.2 L786.0,405.1 L783.0,403.9 L780.0,402.8 L777.0,401.6 L774.0,400.4 L771.0,399.2 L768.0,398.0 L765.0,396.8 L762.0,395.5 L759.0,394.3 L756.0,393.1 L753.0,391.8 L750.0,390.6 L747.0,389.3 L744.0,388.0 L741.0,386.7 L738.0,385.5 L735.0,384.2 L732.0,382.9 L729.0,381.6 L726.0,380.3 L723.0,379.0 L720.0,377.7 L717.0,376.4 L714.0,375.1 L711.0,373.8 L708.0,372.5 L705.0,371.2 L702.0,369.9 L699.0,368.6 L696.0,367.3 L693.0,365.9 L690.0,364.6 L687.0,363.3 L684.0,362.0 L681.0,360.6 L678.0,359.3 L675.0,358.0 L672.0,356.6 L669.0,355.3 L666.0,353.9 L663.0,352.6 L660.0,351.2 L657.0,349.9 L654.0,348.5 L651.0,347.2 L648.0,345.8 L645.0,344.5 L642.0,343.1 L639.0,341.7 L636.0,340.4 L633.0,339.0 L630.0,337.7 L627.0,336.3 L624.0,334.9 L621.0,333.5 L618.0,332.1 L615.0,330.8 L612.0,329.4 L609.0,328.0 L607.0,327.6 L604.0,327.1 L601.0,326.5 L598.0,325.8 L595.0,325.1 L592.0,324.4 L589.0,323.7 L586.0,322.9 L583.0,322.1 L580.0,321.3 L577.0,320.6 L574.0,319.9 L571.0,319.2 L568.0,318.5 L565.0,317.8 L562.0,317.2 L559.0,316.5 L556.0,315.8 L553.0,315.1 L550.0,314.4 L547.0,313.6 L544.0,312.8 L541.0,312.0 L538.0,311.2 L535.0,310.4 L532.0,309.6 L529.0,308.7 L526.0,307.9 L523.0,307.0 L520.0,306.1 L517.0,305.3 L514.0,304.4 L511.0,303.5 L508.0,302.7 L505.0,301.8 L502.0,300.9 L499.0,300.0 L496.0,299.2 L493.0,298.3 L490.0,297.3 L487.0,296.4 L484.0,295.4 L481.0,294.4 L478.0,293.5 L475.0,292.4 L472.0,291.4 L469.0,290.4 L466.0,289.3 L463.0,288.2 L460.0,287.0 L457.0,285.9 L454.0,284.6 L451.0,283.4 L448.0,282.1 L445.0,280.8 L442.0,279.5 L439.0,278.2 L436.0,276.9 L433.0,275.6 L430.0,274.3 L427.0,272.9 L424.0,271.5 L421.0,270.1 L418.0,268.7 L415.0,267.3 L412.0,265.8 L409.0,264.3 L406.0,262.8 L403.0,261.2 L400.0,259.6 L397.0,258.0 L394.0,256.3 L391.0,254.7 L388.0,253.1 L385.0,251.5 L382.0,249.8 L379.0,248.2 L376.0,246.5 L373.0,244.9 L370.0,243.2 L367.0,241.5 L364.0,239.9 L361.0,238.3 L358.0,236.7 L355.0,235.1 L352.0,233.5 L349.0,232.0 L346.0,230.4 L343.0,228.8 L340.0,227.2 L337.0,225.5 L334.0,223.7 L331.0,221.9 L328.0,219.9 L325.0,218.0 L322.0,216.0 L319.0,214.0 L316.0,212.0 L313.0,210.0 L310.0,208.0 L307.0,206.1 L304.0,204.1 L301.0,202.1 L298.0,200.1 L295.0,198.2 L292.0,196.3 L289.0,194.4 L286.0,192.5 L283.0,190.7 L280.0,188.9 L277.0,187.2 L274.0,185.5 L271.0,183.9 L268.0,182.3 L265.0,180.8 L262.0,179.3 L259.0,177.9 L256.0,176.4 L253.0,175.0 L250.0,173.6 L247.0,172.1 L244.0,170.7 L241.0,169.2 L238.0,167.8 L235.0,166.5 L232.0,165.3 L229.0,164.1 L226.0,163.0 L223.0,161.9 L220.0,160.8 L217.0,159.7 L214.0,158.7 L211.0,157.7 L208.0,156.7 L205.0,155.8 L202.0,154.8 L199.0,153.9 L196.0,153.0 L193.0,152.1 L190.0,151.2 L187.0,150.4 L184.0,149.5 L181.0,148.7 L178.0,147.9 L175.0,147.2 L172.0,146.5 L169.0,145.8 L166.0,145.1 L163.0,144.6 L160.0,144.0 L157.0,143.5 L154.0,142.9 L151.0,142.4 L148.0,141.8 L145.0,141.2 L142.0,140.6 L139.0,139.9 L136.0,139.2 L133.0,138.5 L130.0,137.8 L127.0,137.0 L124.0,136.2 L121.0,135.4 L118.0,134.6 Z" fill="url(#g5)"/>
<path d="M118.0,134.6 L121.0,135.2 L124.0,135.8 L127.0,136.4 L130.0,137.0 L133.0,137.6 L136.0,138.2 L139.0,138.9 L142.0,139.5 L145.0,140.1 L148.0,140.8 L151.0,141.4 L154.0,142.0 L157.0,142.7 L160.0,143.3 L163.0,143.9 L166.0,144.5 L169.0,145.1 L172.0,145.7 L175.0,146.4 L178.0,147.0 L181.0,147.7 L184.0,148.4 L187.0,149.1 L190.0,149.8 L193.0,150.5 L196.0,151.3 L199.0,152.1 L202.0,153.0 L205.0,153.9 L208.0,154.8 L211.0,155.8 L214.0,156.8 L217.0,157.8 L220.0,158.9 L223.0,160.0 L226.0,161.2 L229.0,162.3 L232.0,163.6 L235.0,164.8 L238.0,166.0 L241.0,167.3 L244.0,168.6 L247.0,169.9 L250.0,171.3 L253.0,172.6 L256.0,174.1 L259.0,175.5 L262.0,177.1 L265.0,178.6 L268.0,180.2 L271.0,181.9 L274.0,183.6 L277.0,185.3 L280.0,187.0 L283.0,188.7 L286.0,190.5 L289.0,192.3 L292.0,194.1 L295.0,195.8 L298.0,197.6 L301.0,199.4 L304.0,201.3 L307.0,203.1 L310.0,205.1 L313.0,207.0 L316.0,209.0 L319.0,211.0 L322.0,213.0 L325.0,215.0 L328.0,217.0 L331.0,218.9 L334.0,220.8 L337.0,222.6 L340.0,224.4 L343.0,226.1 L346.0,227.8 L349.0,229.4 L352.0,231.0 L355.0,232.6 L358.0,234.1 L361.0,235.5 L364.0,236.9 L367.0,238.2 L370.0,239.5 L373.0,240.7 L376.0,241.8 L379.0,243.0 L382.0,244.2 L385.0,245.3 L388.0,246.5 L391.0,247.6 L394.0,248.7 L397.0,249.9 L400.0,251.0 L403.0,252.1 L406.0,253.2 L409.0,254.3 L412.0,255.4 L415.0,256.5 L418.0,257.6 L421.0,258.8 L424.0,259.9 L427.0,261.0 L430.0,262.1 L433.0,263.2 L436.0,264.4 L439.0,265.5 L442.0,266.6 L445.0,267.7 L448.0,268.8 L451.0,269.9 L454.0,271.1 L457.0,272.1 L460.0,273.2 L463.0,274.2 L466.0,275.3 L469.0,276.3 L472.0,277.2 L475.0,278.2 L478.0,279.2 L481.0,280.1 L484.0,281.1 L487.0,282.0 L490.0,282.9 L493.0,283.9 L496.0,284.8 L499.0,285.7 L502.0,286.7 L505.0,287.6 L508.0,288.4 L511.0,289.3 L514.0,290.1 L517.0,290.9 L520.0,291.6 L523.0,292.4 L526.0,293.1 L529.0,293.8 L532.0,294.5 L535.0,295.1 L538.0,295.8 L541.0,296.5 L544.0,297.1 L547.0,297.8 L550.0,298.5 L553.0,299.2 L556.0,299.8 L559.0,300.5 L562.0,301.2 L565.0,301.8 L568.0,302.5 L571.0,303.1 L574.0,303.8 L577.0,304.5 L580.0,305.2 L583.0,305.9 L586.0,306.5 L589.0,307.2 L592.0,307.9 L595.0,308.6 L598.0,309.4 L601.0,310.1 L604.0,310.9 L607.0,311.6 L610.0,312.5 L613.0,313.3 L616.0,314.1 L619.0,315.0 L622.0,315.9 L625.0,316.7 L628.0,317.6 L631.0,318.5 L634.0,319.3 L637.0,320.2 L640.0,321.0 L643.0,322.0 L646.0,322.9 L649.0,324.0 L652.0,325.1 L655.0,326.2 L658.0,327.3 L661.0,328.5 L664.0,329.7 L667.0,331.0 L670.0,332.3 L673.0,333.6 L676.0,334.9 L679.0,336.2 L682.0,337.5 L685.0,338.8 L688.0,340.1 L691.0,341.5 L694.0,342.8 L697.0,344.1 L700.0,345.4 L703.0,346.7 L706.0,348.0 L709.0,349.3 L712.0,350.6 L715.0,352.0 L718.0,353.3 L721.0,354.7 L724.0,356.0 L727.0,357.4 L730.0,358.7 L733.0,360.1 L736.0,361.4 L739.0,362.8 L742.0,364.2 L745.0,365.5 L748.0,366.9 L751.0,368.3 L754.0,369.6 L757.0,371.0 L760.0,372.3 L763.0,373.7 L766.0,375.0 L769.0,376.4 L772.0,377.7 L775.0,379.0 L778.0,380.4 L781.0,381.7 L784.0,383.0 L787.0,384.3 L790.0,385.6 L793.0,386.8 L796.0,388.1 L799.0,389.3 L802.0,390.5 L805.0,391.6 L808.0,392.8 L811.0,394.0 L814.0,395.1 L817.0,396.2 L820.0,397.3 L823.0,398.5 L826.0,399.6 L829.0,400.6 L832.0,401.7 L835.0,402.8 L838.0,403.8 L841.0,404.8 L844.0,405.9 L847.0,406.9 L850.0,407.8 L852.0,408.5 L852.0,428.9 L849.0,427.8 L846.0,426.7 L843.0,425.7 L840.0,424.6 L837.0,423.5 L834.0,422.4 L831.0,421.4 L828.0,420.3 L825.0,419.2 L822.0,418.1 L819.0,417.1 L816.0,416.0 L813.0,414.9 L810.0,413.9 L807.0,412.8 L804.0,411.7 L801.0,410.7 L798.0,409.6 L795.0,408.5 L792.0,407.3 L789.0,406.2 L786.0,405.1 L783.0,403.9 L780.0,402.8 L777.0,401.6 L774.0,400.4 L771.0,399.2 L768.0,398.0 L765.0,396.8 L762.0,395.5 L759.0,394.3 L756.0,393.1 L753.0,391.8 L750.0,390.6 L747.0,389.3 L744.0,388.0 L741.0,386.7 L738.0,385.5 L735.0,384.2 L732.0,382.9 L729.0,381.6 L726.0,380.3 L723.0,379.0 L720.0,377.7 L717.0,376.4 L714.0,375.1 L711.0,373.8 L708.0,372.5 L705.0,371.2 L702.0,369.9 L699.0,368.6 L696.0,367.3 L693.0,365.9 L690.0,364.6 L687.0,363.3 L684.0,362.0 L681.0,360.6 L678.0,359.3 L675.0,358.0 L672.0,356.6 L669.0,355.3 L666.0,353.9 L663.0,352.6 L660.0,351.2 L657.0,349.9 L654.0,348.5 L651.0,347.2 L648.0,345.8 L645.0,344.5 L642.0,343.1 L639.0,341.7 L636.0,340.4 L633.0,339.0 L630.0,337.7 L627.0,336.3 L624.0,334.9 L621.0,333.5 L618.0,332.1 L615.0,330.8 L612.0,329.4 L609.0,328.0 L607.0,327.6 L604.0,327.1 L601.0,326.5 L598.0,325.8 L595.0,325.1 L592.0,324.4 L589.0,323.7 L586.0,322.9 L583.0,322.1 L580.0,321.3 L577.0,320.6 L574.0,319.9 L571.0,319.2 L568.0,318.5 L565.0,317.8 L562.0,317.2 L559.0,316.5 L556.0,315.8 L553.0,315.1 L550.0,314.4 L547.0,313.6 L544.0,312.8 L541.0,312.0 L538.0,311.2 L535.0,310.4 L532.0,309.6 L529.0,308.7 L526.0,307.9 L523.0,307.0 L520.0,306.1 L517.0,305.3 L514.0,304.4 L511.0,303.5 L508.0,302.7 L505.0,301.8 L502.0,300.9 L499.0,300.0 L496.0,299.2 L493.0,298.3 L490.0,297.3 L487.0,296.4 L484.0,295.4 L481.0,294.4 L478.0,293.5 L475.0,292.4 L472.0,291.4 L469.0,290.4 L466.0,289.3 L463.0,288.2 L460.0,287.0 L457.0,285.9 L454.0,284.6 L451.0,283.4 L448.0,282.1 L445.0,280.8 L442.0,279.5 L439.0,278.2 L436.0,276.9 L433.0,275.6 L430.0,274.3 L427.0,272.9 L424.0,271.5 L421.0,270.1 L418.0,268.7 L415.0,267.3 L412.0,265.8 L409.0,264.3 L406.0,262.8 L403.0,261.2 L400.0,259.6 L397.0,258.0 L394.0,256.3 L391.0,254.7 L388.0,253.1 L385.0,251.5 L382.0,249.8 L379.0,248.2 L376.0,246.5 L373.0,244.9 L370.0,243.2 L367.0,241.5 L364.0,239.9 L361.0,238.3 L358.0,236.7 L355.0,235.1 L352.0,233.5 L349.0,232.0 L346.0,230.4 L343.0,228.8 L340.0,227.2 L337.0,225.5 L334.0,223.7 L331.0,221.9 L328.0,219.9 L325.0,218.0 L322.0,216.0 L319.0,214.0 L316.0,212.0 L313.0,210.0 L310.0,208.0 L307.0,206.1 L304.0,204.1 L301.0,202.1 L298.0,200.1 L295.0,198.2 L292.0,196.3 L289.0,194.4 L286.0,192.5 L283.0,190.7 L280.0,188.9 L277.0,187.2 L274.0,185.5 L271.0,183.9 L268.0,182.3 L265.0,180.8 L262.0,179.3 L259.0,177.9 L256.0,176.4 L253.0,175.0 L250.0,173.6 L247.0,172.1 L244.0,170.7 L241.0,169.2 L238.0,167.8 L235.0,166.5 L232.0,165.3 L229.0,164.1 L226.0,163.0 L223.0,161.9 L220.0,160.8 L217.0,159.7 L214.0,158.7 L211.0,157.7 L208.0,156.7 L205.0,155.8 L202.0,154.8 L199.0,153.9 L196.0,153.0 L193.0,152.1 L190.0,151.2 L187.0,150.4 L184.0,149.5 L181.0,148.7 L178.0,147.9 L175.0,147.2 L172.0,146.5 L169.0,145.8 L166.0,145.1 L163.0,144.6 L160.0,144.0 L157.0,143.5 L154.0,142.9 L151.0,142.4 L148.0,141.8 L145.0,141.2 L142.0,140.6 L139.0,139.9 L136.0,139.2 L133.0,138.5 L130.0,137.8 L127.0,137.0 L124.0,136.2 L121.0,135.4 L118.0,134.6 Z" fill="url(#g6)"/>
<path d="M118.0,134.6 L121.0,134.9 L124.0,135.3 L127.0,135.6 L130.0,135.9 L133.0,136.3 L136.0,136.6 L139.0,136.9 L142.0,137.2 L145.0,137.5 L148.0,137.8 L151.0,138.1 L154.0,138.3 L157.0,138.6 L160.0,138.9 L163.0,139.1 L166.0,139.4 L169.0,139.6 L172.0,139.8 L175.0,140.0 L178.0,140.3 L181.0,140.5 L184.0,140.6 L187.0,140.8 L190.0,141.0 L193.0,141.2 L196.0,141.4 L199.0,141.6 L202.0,141.8 L205.0,142.1 L208.0,142.3 L211.0,142.5 L214.0,142.7 L217.0,142.9 L220.0,143.2 L223.0,143.4 L226.0,143.6 L229.0,143.9 L232.0,144.1 L235.0,144.3 L238.0,144.6 L241.0,144.9 L244.0,145.1 L247.0,145.4 L250.0,145.7 L253.0,146.0 L256.0,146.2 L259.0,146.5 L262.0,146.8 L265.0,147.1 L268.0,147.4 L271.0,147.7 L274.0,148.0 L277.0,148.3 L280.0,148.6 L283.0,148.9 L286.0,149.2 L289.0,149.5 L292.0,149.9 L295.0,150.2 L298.0,150.5 L301.0,150.8 L304.0,151.1 L307.0,151.4 L310.0,151.8 L313.0,152.1 L316.0,152.4 L319.0,152.7 L322.0,153.0 L325.0,153.2 L328.0,153.5 L331.0,153.8 L334.0,154.1 L337.0,154.3 L340.0,154.6 L343.0,154.9 L346.0,155.1 L349.0,155.4 L352.0,155.6 L355.0,155.8 L358.0,156.0 L361.0,156.2 L364.0,156.4 L367.0,156.6 L370.0,156.8 L373.0,156.9 L376.0,157.1 L379.0,157.3 L382.0,157.4 L385.0,157.6 L388.0,157.7 L391.0,157.9 L394.0,158.0 L397.0,158.2 L400.0,158.3 L403.0,158.4 L406.0,158.6 L409.0,158.7 L412.0,158.8 L415.0,158.9 L418.0,159.1 L421.0,159.2 L424.0,159.3 L427.0,159.4 L430.0,159.5 L433.0,159.6 L436.0,159.7 L439.0,159.8 L442.0,159.9 L445.0,159.9 L448.0,160.0 L451.0,160.1 L454.0,160.2 L457.0,160.2 L460.0,160.3 L463.0,160.4 L466.0,160.4 L469.0,160.5 L472.0,160.6 L475.0,160.6 L478.0,160.7 L481.0,160.7 L484.0,160.8 L487.0,160.9 L490.0,160.9 L493.0,161.0 L496.0,161.0 L499.0,161.1 L502.0,161.1 L505.0,161.2 L508.0,161.2 L511.0,161.3 L514.0,161.3 L517.0,161.3 L520.0,161.4 L523.0,161.4 L526.0,161.5 L529.0,161.5 L532.0,161.6 L535.0,161.6 L538.0,161.7 L541.0,161.7 L544.0,161.8 L547.0,161.8 L550.0,161.9 L553.0,161.9 L556.0,162.0 L559.0,162.0 L562.0,162.1 L565.0,162.2 L568.0,162.2 L571.0,162.3 L574.0,162.3 L577.0,162.4 L580.0,162.5 L583.0,162.5 L586.0,162.6 L589.0,162.7 L592.0,162.8 L595.0,162.9 L598.0,162.9 L601.0,163.0 L604.0,163.1 L607.0,163.2 L610.0,163.3 L613.0,163.4 L616.0,163.5 L619.0,163.7 L622.0,163.8 L625.0,163.9 L628.0,164.0 L631.0,164.2 L634.0,164.3 L637.0,164.4 L640.0,164.6 L643.0,164.7 L646.0,164.9 L649.0,165.0 L652.0,165.2 L655.0,165.4 L658.0,165.5 L661.0,165.7 L664.0,165.9 L667.0,166.0 L670.0,166.2 L673.0,166.4 L676.0,166.5 L679.0,166.7 L682.0,166.9 L685.0,167.1 L688.0,167.3 L691.0,167.4 L694.0,167.6 L697.0,167.8 L700.0,168.0 L703.0,168.2 L706.0,168.3 L709.0,168.5 L712.0,168.7 L715.0,168.9 L718.0,169.1 L721.0,169.3 L724.0,169.4 L727.0,169.6 L730.0,169.8 L733.0,170.0 L736.0,170.2 L739.0,170.3 L742.0,170.5 L745.0,170.7 L748.0,170.9 L751.0,171.1 L754.0,171.3 L757.0,171.5 L760.0,171.7 L763.0,171.9 L766.0,172.1 L769.0,172.2 L772.0,172.4 L775.0,172.6 L778.0,172.8 L781.0,173.1 L784.0,173.3 L787.0,173.5 L790.0,173.7 L793.0,173.9 L796.0,174.1 L799.0,174.3 L802.0,174.5 L805.0,174.7 L808.0,174.9 L811.0,175.1 L814.0,175.4 L817.0,175.6 L820.0,175.8 L823.0,176.0 L826.0,176.2 L829.0,176.5 L832.0,176.7 L835.0,176.9 L838.0,177.1 L841.0,177.4 L844.0,177.6 L847.0,177.8 L850.0,178.0 L852.0,178.2" fill="none" stroke="#1f3340" stroke-width="1.45" stroke-dasharray="4.3 2.4"/>
<path d="M118.0,134.6 L121.0,134.9 L124.0,135.3 L127.0,135.7 L130.0,136.0 L133.0,136.4 L136.0,136.8 L139.0,137.2 L142.0,137.6 L145.0,138.0 L148.0,138.4 L151.0,138.9 L154.0,139.3 L157.0,139.7 L160.0,140.2 L163.0,140.6 L166.0,141.0 L169.0,141.5 L172.0,142.0 L175.0,142.4 L178.0,142.9 L181.0,143.4 L184.0,143.9 L187.0,144.4 L190.0,145.0 L193.0,145.5 L196.0,146.0 L199.0,146.5 L202.0,147.0 L205.0,147.6 L208.0,148.1 L211.0,148.6 L214.0,149.1 L217.0,149.7 L220.0,150.2 L223.0,150.8 L226.0,151.3 L229.0,151.9 L232.0,152.4 L235.0,153.0 L238.0,153.6 L241.0,154.2 L244.0,154.9 L247.0,155.5 L250.0,156.2 L253.0,156.9 L256.0,157.6 L259.0,158.3 L262.0,159.0 L265.0,159.6 L268.0,160.2 L271.0,160.8 L274.0,161.3 L277.0,161.8 L280.0,162.3 L283.0,162.8 L286.0,163.3 L289.0,163.8 L292.0,164.2 L295.0,164.7 L298.0,165.1 L301.0,165.5 L304.0,166.0 L307.0,166.4 L310.0,166.8 L313.0,167.3 L316.0,167.7 L319.0,168.1 L322.0,168.6 L325.0,169.0 L328.0,169.5 L331.0,170.0 L334.0,170.4 L337.0,170.9 L340.0,171.5 L343.0,172.0 L346.0,172.5 L349.0,173.0 L352.0,173.5 L355.0,173.9 L358.0,174.4 L361.0,174.9 L364.0,175.3 L367.0,175.7 L370.0,176.1 L373.0,176.5 L376.0,176.9 L379.0,177.3 L382.0,177.7 L385.0,178.1 L388.0,178.5 L391.0,178.8 L394.0,179.2 L397.0,179.6 L400.0,179.9 L403.0,180.3 L406.0,180.7 L409.0,181.0 L412.0,181.3 L415.0,181.7 L418.0,182.0 L421.0,182.4 L424.0,182.7 L427.0,183.0 L430.0,183.3 L433.0,183.7 L436.0,184.0 L439.0,184.3 L442.0,184.6 L445.0,184.9 L448.0,185.2 L451.0,185.5 L454.0,185.8 L457.0,186.1 L460.0,186.4 L463.0,186.6 L466.0,186.9 L469.0,187.2 L472.0,187.4 L475.0,187.7 L478.0,188.0 L481.0,188.2 L484.0,188.5 L487.0,188.7 L490.0,189.0 L493.0,189.2 L496.0,189.5 L499.0,189.7 L502.0,189.9 L505.0,190.2 L508.0,190.4 L511.0,190.7 L514.0,190.9 L517.0,191.1 L520.0,191.4 L523.0,191.6 L526.0,191.8 L529.0,192.1 L532.0,192.3 L535.0,192.6 L538.0,192.8 L541.0,193.1 L544.0,193.3 L547.0,193.6 L550.0,193.8 L553.0,194.1 L556.0,194.3 L559.0,194.6 L562.0,194.9 L565.0,195.1 L568.0,195.4 L571.0,195.7 L574.0,196.0 L577.0,196.2 L580.0,196.5 L583.0,196.8 L586.0,197.1 L589.0,197.4 L592.0,197.7 L595.0,198.1 L598.0,198.4 L601.0,198.7 L604.0,199.1 L607.0,199.4 L610.0,199.8 L613.0,200.1 L616.0,200.5 L619.0,200.9 L622.0,201.3 L625.0,201.7 L628.0,202.1 L631.0,202.5 L634.0,202.9 L637.0,203.4 L640.0,203.8 L643.0,204.2 L646.0,204.7 L649.0,205.1 L652.0,205.6 L655.0,206.0 L658.0,206.5 L661.0,206.9 L664.0,207.4 L667.0,207.9 L670.0,208.3 L673.0,208.8 L676.0,209.2 L679.0,209.7 L682.0,210.2 L685.0,210.6 L688.0,211.1 L691.0,211.6 L694.0,212.0 L697.0,212.5 L700.0,212.9 L703.0,213.4 L706.0,213.8 L709.0,214.3 L712.0,214.7 L715.0,215.1 L718.0,215.6 L721.0,216.0 L724.0,216.4 L727.0,216.8 L730.0,217.2 L733.0,217.6 L736.0,218.0 L739.0,218.4 L742.0,218.8 L745.0,219.2 L748.0,219.6 L751.0,219.9 L754.0,220.3 L757.0,220.7 L760.0,221.1 L763.0,221.5 L766.0,221.9 L769.0,222.2 L772.0,222.6 L775.0,223.0 L778.0,223.4 L781.0,223.8 L784.0,224.1 L787.0,224.5 L790.0,224.9 L793.0,225.2 L796.0,225.6 L799.0,226.0 L802.0,226.3 L805.0,226.7 L808.0,227.1 L811.0,227.4 L814.0,227.8 L817.0,228.1 L820.0,228.5 L823.0,228.8 L826.0,229.2 L829.0,229.6 L832.0,229.9 L835.0,230.3 L838.0,230.6 L841.0,230.9 L844.0,231.3 L847.0,231.6 L850.0,232.0 L852.0,232.2" fill="none" stroke="#1f3340" stroke-width="1.45" stroke-dasharray="4.3 2.4"/>
<path d="M118.0,134.6 L121.0,135.1 L124.0,135.5 L127.0,136.0 L130.0,136.5 L133.0,137.0 L136.0,137.5 L139.0,138.0 L142.0,138.5 L145.0,139.1 L148.0,139.6 L151.0,140.1 L154.0,140.7 L157.0,141.2 L160.0,141.8 L163.0,142.4 L166.0,142.9 L169.0,143.5 L172.0,144.1 L175.0,144.7 L178.0,145.2 L181.0,145.8 L184.0,146.4 L187.0,147.0 L190.0,147.7 L193.0,148.3 L196.0,149.0 L199.0,149.8 L202.0,150.5 L205.0,151.3 L208.0,152.2 L211.0,153.1 L214.0,154.0 L217.0,155.0 L220.0,156.0 L223.0,157.0 L226.0,158.0 L229.0,159.0 L232.0,160.0 L235.0,161.0 L238.0,162.0 L241.0,163.0 L244.0,164.0 L247.0,165.0 L250.0,166.0 L253.0,167.0 L256.0,168.0 L259.0,169.0 L262.0,170.0 L265.0,171.0 L268.0,172.0 L271.0,172.9 L274.0,173.9 L277.0,174.8 L280.0,175.8 L283.0,176.7 L286.0,177.7 L289.0,178.6 L292.0,179.6 L295.0,180.5 L298.0,181.5 L301.0,182.4 L304.0,183.3 L307.0,184.2 L310.0,185.1 L313.0,186.1 L316.0,187.0 L319.0,187.9 L322.0,188.7 L325.0,189.6 L328.0,190.5 L331.0,191.4 L334.0,192.3 L337.0,193.1 L340.0,194.0 L343.0,194.9 L346.0,195.8 L349.0,196.6 L352.0,197.4 L355.0,198.2 L358.0,199.0 L361.0,199.8 L364.0,200.5 L367.0,201.2 L370.0,201.8 L373.0,202.5 L376.0,203.2 L379.0,203.8 L382.0,204.4 L385.0,205.0 L388.0,205.6 L391.0,206.2 L394.0,206.8 L397.0,207.4 L400.0,208.0 L403.0,208.5 L406.0,209.1 L409.0,209.7 L412.0,210.3 L415.0,210.8 L418.0,211.4 L421.0,212.0 L424.0,212.6 L427.0,213.1 L430.0,213.7 L433.0,214.3 L436.0,214.8 L439.0,215.4 L442.0,215.9 L445.0,216.5 L448.0,217.0 L451.0,217.6 L454.0,218.1 L457.0,218.7 L460.0,219.2 L463.0,219.8 L466.0,220.3 L469.0,220.9 L472.0,221.4 L475.0,222.0 L478.0,222.5 L481.0,223.1 L484.0,223.6 L487.0,224.2 L490.0,224.8 L493.0,225.4 L496.0,226.0 L499.0,226.5 L502.0,227.1 L505.0,227.7 L508.0,228.3 L511.0,228.9 L514.0,229.5 L517.0,230.1 L520.0,230.7 L523.0,231.3 L526.0,231.9 L529.0,232.5 L532.0,233.1 L535.0,233.7 L538.0,234.3 L541.0,234.9 L544.0,235.6 L547.0,236.2 L550.0,236.8 L553.0,237.5 L556.0,238.1 L559.0,238.8 L562.0,239.4 L565.0,240.1 L568.0,240.8 L571.0,241.5 L574.0,242.1 L577.0,242.8 L580.0,243.5 L583.0,244.2 L586.0,244.9 L589.0,245.6 L592.0,246.3 L595.0,247.0 L598.0,247.7 L601.0,248.5 L604.0,249.2 L607.0,249.9 L610.0,250.7 L613.0,251.4 L616.0,252.1 L619.0,252.9 L622.0,253.6 L625.0,254.4 L628.0,255.2 L631.0,256.0 L634.0,256.7 L637.0,257.5 L640.0,258.3 L643.0,259.1 L646.0,259.9 L649.0,260.7 L652.0,261.6 L655.0,262.4 L658.0,263.2 L661.0,264.1 L664.0,265.0 L667.0,265.8 L670.0,266.7 L673.0,267.6 L676.0,268.5 L679.0,269.4 L682.0,270.3 L685.0,271.2 L688.0,272.1 L691.0,273.0 L694.0,273.9 L697.0,274.8 L700.0,275.7 L703.0,276.6 L706.0,277.5 L709.0,278.5 L712.0,279.4 L715.0,280.3 L718.0,281.2 L721.0,282.1 L724.0,283.0 L727.0,283.9 L730.0,284.8 L733.0,285.7 L736.0,286.6 L739.0,287.4 L742.0,288.3 L745.0,289.2 L748.0,290.0 L751.0,290.9 L754.0,291.7 L757.0,292.6 L760.0,293.4 L763.0,294.2 L766.0,295.1 L769.0,295.9 L772.0,296.7 L775.0,297.5 L778.0,298.3 L781.0,299.1 L784.0,300.0 L787.0,300.8 L790.0,301.6 L793.0,302.4 L796.0,303.2 L799.0,304.0 L802.0,304.8 L805.0,305.7 L808.0,306.5 L811.0,307.3 L814.0,308.1 L817.0,308.9 L820.0,309.7 L823.0,310.5 L826.0,311.3 L829.0,312.1 L832.0,312.9 L835.0,313.8 L838.0,314.6 L841.0,315.4 L844.0,316.2 L847.0,317.0 L850.0,317.8 L852.0,318.3" fill="none" stroke="#1f3340" stroke-width="1.45" stroke-dasharray="4.3 2.4"/>
<path d="M118.0,134.6 L121.0,135.2 L124.0,135.8 L127.0,136.4 L130.0,137.0 L133.0,137.6 L136.0,138.2 L139.0,138.8 L142.0,139.5 L145.0,140.1 L148.0,140.7 L151.0,141.3 L154.0,142.0 L157.0,142.6 L160.0,143.3 L163.0,143.9 L166.0,144.5 L169.0,145.2 L172.0,145.8 L175.0,146.5 L178.0,147.1 L181.0,147.7 L184.0,148.4 L187.0,149.0 L190.0,149.7 L193.0,150.4 L196.0,151.1 L199.0,151.9 L202.0,152.8 L205.0,153.7 L208.0,154.6 L211.0,155.6 L214.0,156.6 L217.0,157.7 L220.0,158.8 L223.0,159.9 L226.0,161.0 L229.0,162.2 L232.0,163.3 L235.0,164.5 L238.0,165.6 L241.0,166.7 L244.0,167.9 L247.0,169.1 L250.0,170.3 L253.0,171.5 L256.0,172.8 L259.0,174.0 L262.0,175.2 L265.0,176.4 L268.0,177.6 L271.0,178.8 L274.0,179.9 L277.0,181.1 L280.0,182.2 L283.0,183.3 L286.0,184.3 L289.0,185.4 L292.0,186.5 L295.0,187.6 L298.0,188.6 L301.0,189.7 L304.0,190.8 L307.0,191.9 L310.0,193.0 L313.0,194.1 L316.0,195.2 L319.0,196.3 L322.0,197.4 L325.0,198.6 L328.0,199.8 L331.0,201.0 L334.0,202.3 L337.0,203.6 L340.0,205.0 L343.0,206.4 L346.0,207.8 L349.0,209.2 L352.0,210.6 L355.0,211.9 L358.0,213.1 L361.0,214.2 L364.0,215.3 L367.0,216.3 L370.0,217.3 L373.0,218.2 L376.0,219.1 L379.0,220.0 L382.0,220.8 L385.0,221.7 L388.0,222.5 L391.0,223.3 L394.0,224.1 L397.0,224.9 L400.0,225.6 L403.0,226.4 L406.0,227.2 L409.0,228.0 L412.0,228.8 L415.0,229.6 L418.0,230.4 L421.0,231.3 L424.0,232.1 L427.0,233.0 L430.0,233.9 L433.0,234.8 L436.0,235.6 L439.0,236.5 L442.0,237.4 L445.0,238.3 L448.0,239.2 L451.0,240.1 L454.0,241.0 L457.0,241.8 L460.0,242.7 L463.0,243.6 L466.0,244.4 L469.0,245.2 L472.0,246.1 L475.0,246.9 L478.0,247.7 L481.0,248.5 L484.0,249.3 L487.0,250.0 L490.0,250.7 L493.0,251.5 L496.0,252.2 L499.0,252.8 L502.0,253.5 L505.0,254.2 L508.0,254.9 L511.0,255.6 L514.0,256.2 L517.0,256.9 L520.0,257.6 L523.0,258.3 L526.0,259.0 L529.0,259.8 L532.0,260.5 L535.0,261.3 L538.0,262.0 L541.0,262.8 L544.0,263.5 L547.0,264.3 L550.0,265.1 L553.0,265.9 L556.0,266.6 L559.0,267.4 L562.0,268.2 L565.0,269.0 L568.0,269.8 L571.0,270.6 L574.0,271.4 L577.0,272.2 L580.0,273.0 L583.0,273.8 L586.0,274.7 L589.0,275.5 L592.0,276.3 L595.0,277.1 L598.0,278.0 L601.0,278.8 L604.0,279.7 L607.0,280.5 L610.0,281.3 L613.0,282.2 L616.0,283.1 L619.0,283.9 L622.0,284.8 L625.0,285.6 L628.0,286.5 L631.0,287.4 L634.0,288.2 L637.0,289.1 L640.0,290.0 L643.0,290.9 L646.0,291.8 L649.0,292.7 L652.0,293.6 L655.0,294.5 L658.0,295.4 L661.0,296.4 L664.0,297.3 L667.0,298.2 L670.0,299.2 L673.0,300.1 L676.0,301.1 L679.0,302.1 L682.0,303.0 L685.0,304.0 L688.0,305.0 L691.0,305.9 L694.0,306.9 L697.0,307.9 L700.0,308.9 L703.0,309.8 L706.0,310.8 L709.0,311.8 L712.0,312.7 L715.0,313.7 L718.0,314.7 L721.0,315.7 L724.0,316.6 L727.0,317.6 L730.0,318.5 L733.0,319.5 L736.0,320.4 L739.0,321.4 L742.0,322.3 L745.0,323.3 L748.0,324.2 L751.0,325.1 L754.0,326.0 L757.0,327.0 L760.0,327.9 L763.0,328.8 L766.0,329.7 L769.0,330.7 L772.0,331.6 L775.0,332.5 L778.0,333.4 L781.0,334.4 L784.0,335.3 L787.0,336.3 L790.0,337.2 L793.0,338.2 L796.0,339.1 L799.0,340.1 L802.0,341.0 L805.0,342.0 L808.0,342.9 L811.0,343.9 L814.0,344.9 L817.0,345.8 L820.0,346.8 L823.0,347.8 L826.0,348.8 L829.0,349.7 L832.0,350.7 L835.0,351.7 L838.0,352.7 L841.0,353.7 L844.0,354.7 L847.0,355.6 L850.0,356.6 L852.0,357.3" fill="none" stroke="#1f3340" stroke-width="1.45" stroke-dasharray="4.3 2.4"/>
<path d="M118.0,134.6 L121.0,135.2 L124.0,135.8 L127.0,136.4 L130.0,137.0 L133.0,137.6 L136.0,138.2 L139.0,138.9 L142.0,139.5 L145.0,140.1 L148.0,140.8 L151.0,141.4 L154.0,142.0 L157.0,142.7 L160.0,143.3 L163.0,143.9 L166.0,144.5 L169.0,145.1 L172.0,145.7 L175.0,146.4 L178.0,147.0 L181.0,147.7 L184.0,148.4 L187.0,149.1 L190.0,149.8 L193.0,150.5 L196.0,151.3 L199.0,152.1 L202.0,153.0 L205.0,153.9 L208.0,154.8 L211.0,155.8 L214.0,156.8 L217.0,157.8 L220.0,158.9 L223.0,160.0 L226.0,161.2 L229.0,162.3 L232.0,163.6 L235.0,164.8 L238.0,166.0 L241.0,167.3 L244.0,168.6 L247.0,169.9 L250.0,171.3 L253.0,172.6 L256.0,174.1 L259.0,175.5 L262.0,177.1 L265.0,178.6 L268.0,180.2 L271.0,181.9 L274.0,183.6 L277.0,185.3 L280.0,187.0 L283.0,188.7 L286.0,190.5 L289.0,192.3 L292.0,194.1 L295.0,195.8 L298.0,197.6 L301.0,199.4 L304.0,201.3 L307.0,203.1 L310.0,205.1 L313.0,207.0 L316.0,209.0 L319.0,211.0 L322.0,213.0 L325.0,215.0 L328.0,217.0 L331.0,218.9 L334.0,220.8 L337.0,222.6 L340.0,224.4 L343.0,226.1 L346.0,227.8 L349.0,229.4 L352.0,231.0 L355.0,232.6 L358.0,234.1 L361.0,235.5 L364.0,236.9 L367.0,238.2 L370.0,239.5 L373.0,240.7 L376.0,241.8 L379.0,243.0 L382.0,244.2 L385.0,245.3 L388.0,246.5 L391.0,247.6 L394.0,248.7 L397.0,249.9 L400.0,251.0 L403.0,252.1 L406.0,253.2 L409.0,254.3 L412.0,255.4 L415.0,256.5 L418.0,257.6 L421.0,258.8 L424.0,259.9 L427.0,261.0 L430.0,262.1 L433.0,263.2 L436.0,264.4 L439.0,265.5 L442.0,266.6 L445.0,267.7 L448.0,268.8 L451.0,269.9 L454.0,271.1 L457.0,272.1 L460.0,273.2 L463.0,274.2 L466.0,275.3 L469.0,276.3 L472.0,277.2 L475.0,278.2 L478.0,279.2 L481.0,280.1 L484.0,281.1 L487.0,282.0 L490.0,282.9 L493.0,283.9 L496.0,284.8 L499.0,285.7 L502.0,286.7 L505.0,287.6 L508.0,288.4 L511.0,289.3 L514.0,290.1 L517.0,290.9 L520.0,291.6 L523.0,292.4 L526.0,293.1 L529.0,293.8 L532.0,294.5 L535.0,295.1 L538.0,295.8 L541.0,296.5 L544.0,297.1 L547.0,297.8 L550.0,298.5 L553.0,299.2 L556.0,299.8 L559.0,300.5 L562.0,301.2 L565.0,301.8 L568.0,302.5 L571.0,303.1 L574.0,303.8 L577.0,304.5 L580.0,305.2 L583.0,305.9 L586.0,306.5 L589.0,307.2 L592.0,307.9 L595.0,308.6 L598.0,309.4 L601.0,310.1 L604.0,310.9 L607.0,311.6 L610.0,312.5 L613.0,313.3 L616.0,314.1 L619.0,315.0 L622.0,315.9 L625.0,316.7 L628.0,317.6 L631.0,318.5 L634.0,319.3 L637.0,320.2 L640.0,321.0 L643.0,322.0 L646.0,322.9 L649.0,324.0 L652.0,325.1 L655.0,326.2 L658.0,327.3 L661.0,328.5 L664.0,329.7 L667.0,331.0 L670.0,332.3 L673.0,333.6 L676.0,334.9 L679.0,336.2 L682.0,337.5 L685.0,338.8 L688.0,340.1 L691.0,341.5 L694.0,342.8 L697.0,344.1 L700.0,345.4 L703.0,346.7 L706.0,348.0 L709.0,349.3 L712.0,350.6 L715.0,352.0 L718.0,353.3 L721.0,354.7 L724.0,356.0 L727.0,357.4 L730.0,358.7 L733.0,360.1 L736.0,361.4 L739.0,362.8 L742.0,364.2 L745.0,365.5 L748.0,366.9 L751.0,368.3 L754.0,369.6 L757.0,371.0 L760.0,372.3 L763.0,373.7 L766.0,375.0 L769.0,376.4 L772.0,377.7 L775.0,379.0 L778.0,380.4 L781.0,381.7 L784.0,383.0 L787.0,384.3 L790.0,385.6 L793.0,386.8 L796.0,388.1 L799.0,389.3 L802.0,390.5 L805.0,391.6 L808.0,392.8 L811.0,394.0 L814.0,395.1 L817.0,396.2 L820.0,397.3 L823.0,398.5 L826.0,399.6 L829.0,400.6 L832.0,401.7 L835.0,402.8 L838.0,403.8 L841.0,404.8 L844.0,405.9 L847.0,406.9 L850.0,407.8 L852.0,408.5" fill="none" stroke="#1f3340" stroke-width="1.45" stroke-dasharray="4.3 2.4"/>
<path d="M118,134.6 L480,135.6" fill="none" stroke="#1c2230" stroke-width="1.35"/>
<path d="M480,135.6 L852,136.6" fill="none" stroke="#1c2230" stroke-width="1.35" stroke-dasharray="5 1.4"/>
<path d="M852,136.6 L852,357" fill="none" stroke="#1f3340" stroke-width="1.3" stroke-dasharray="4.3 2.4"/>
<path d="M852,357 L852,429" fill="none" stroke="#141d4a" stroke-width="2"/>
<path d="M118.0,134.6 L121.0,135.4 L124.0,136.2 L127.0,137.0 L130.0,137.8 L133.0,138.5 L136.0,139.2 L139.0,139.9 L142.0,140.6 L145.0,141.2 L148.0,141.8 L151.0,142.4 L154.0,142.9 L157.0,143.5 L160.0,144.0 L163.0,144.6 L166.0,145.1 L169.0,145.8 L172.0,146.5 L175.0,147.2 L178.0,147.9 L181.0,148.7 L184.0,149.5 L187.0,150.4 L190.0,151.2 L193.0,152.1 L196.0,153.0 L199.0,153.9 L202.0,154.8 L205.0,155.8 L208.0,156.7 L211.0,157.7 L214.0,158.7 L217.0,159.7 L220.0,160.8 L223.0,161.9 L226.0,163.0 L229.0,164.1 L232.0,165.3 L235.0,166.5 L238.0,167.8 L241.0,169.2 L244.0,170.7 L247.0,172.1 L250.0,173.6 L253.0,175.0 L256.0,176.4 L259.0,177.9 L262.0,179.3 L265.0,180.8 L268.0,182.3 L271.0,183.9 L274.0,185.5 L277.0,187.2 L280.0,188.9 L283.0,190.7 L286.0,192.5 L289.0,194.4 L292.0,196.3 L295.0,198.2 L298.0,200.1 L301.0,202.1 L304.0,204.1 L307.0,206.1 L310.0,208.0 L313.0,210.0 L316.0,212.0 L319.0,214.0 L322.0,216.0 L325.0,218.0 L328.0,219.9 L331.0,221.9 L334.0,223.7 L337.0,225.5 L340.0,227.2 L343.0,228.8 L346.0,230.4 L349.0,232.0 L352.0,233.5 L355.0,235.1 L358.0,236.7 L361.0,238.3 L364.0,239.9 L367.0,241.5 L370.0,243.2 L373.0,244.9 L376.0,246.5 L379.0,248.2 L382.0,249.8 L385.0,251.5 L388.0,253.1 L391.0,254.7 L394.0,256.3 L397.0,258.0 L400.0,259.6 L403.0,261.2 L406.0,262.8 L409.0,264.3 L412.0,265.8 L415.0,267.3 L418.0,268.7 L421.0,270.1 L424.0,271.5 L427.0,272.9 L430.0,274.3 L433.0,275.6 L436.0,276.9 L439.0,278.2 L442.0,279.5 L445.0,280.8 L448.0,282.1 L451.0,283.4 L454.0,284.6 L457.0,285.9 L460.0,287.0 L463.0,288.2 L466.0,289.3 L469.0,290.4 L472.0,291.4 L475.0,292.4 L478.0,293.5 L481.0,294.4 L484.0,295.4 L487.0,296.4 L490.0,297.3 L493.0,298.3 L496.0,299.2 L499.0,300.0 L502.0,300.9 L505.0,301.8 L508.0,302.7 L511.0,303.5 L514.0,304.4 L517.0,305.3 L520.0,306.1 L523.0,307.0 L526.0,307.9 L529.0,308.7 L532.0,309.6 L535.0,310.4 L538.0,311.2 L541.0,312.0 L544.0,312.8 L547.0,313.6 L550.0,314.4 L553.0,315.1 L556.0,315.8 L559.0,316.5 L562.0,317.2 L565.0,317.8 L568.0,318.5 L571.0,319.2 L574.0,319.9 L577.0,320.6 L580.0,321.3 L583.0,322.1 L586.0,322.9 L589.0,323.7 L592.0,324.4 L595.0,325.1 L598.0,325.8 L601.0,326.5 L604.0,327.1 L607.0,327.6 L609.0,328.0 L612.0,329.4 L615.0,330.8 L618.0,332.1 L621.0,333.5 L624.0,334.9 L627.0,336.3 L630.0,337.7 L633.0,339.0 L636.0,340.4 L639.0,341.7 L642.0,343.1 L645.0,344.5 L648.0,345.8 L651.0,347.2 L654.0,348.5 L657.0,349.9 L660.0,351.2 L663.0,352.6 L666.0,353.9 L669.0,355.3 L672.0,356.6 L675.0,358.0 L678.0,359.3 L681.0,360.6 L684.0,362.0 L687.0,363.3 L690.0,364.6 L693.0,365.9 L696.0,367.3 L699.0,368.6 L702.0,369.9 L705.0,371.2 L708.0,372.5 L711.0,373.8 L714.0,375.1 L717.0,376.4 L720.0,377.7 L723.0,379.0 L726.0,380.3 L729.0,381.6 L732.0,382.9 L735.0,384.2 L738.0,385.5 L741.0,386.7 L744.0,388.0 L747.0,389.3 L750.0,390.6 L753.0,391.8 L756.0,393.1 L759.0,394.3 L762.0,395.5 L765.0,396.8 L768.0,398.0 L771.0,399.2 L774.0,400.4 L777.0,401.6 L780.0,402.8 L783.0,403.9 L786.0,405.1 L789.0,406.2 L792.0,407.3 L795.0,408.5 L798.0,409.6 L801.0,410.7 L804.0,411.7 L807.0,412.8 L810.0,413.9 L813.0,414.9 L816.0,416.0 L819.0,417.1 L822.0,418.1 L825.0,419.2 L828.0,420.3 L831.0,421.4 L834.0,422.4 L837.0,423.5 L840.0,424.6 L843.0,425.7 L846.0,426.7 L849.0,427.8 L852.0,428.9" fill="none" stroke="#141d4a" stroke-width="2.8" stroke-linejoin="round"/>
<path d="M238.2,134 L238.2,461" fill="none" stroke="#172a4c" stroke-width="2" stroke-dasharray="6.8 5.6 1.6 5.15"/>
<path d="M362.3,134.6 L362.3,461" fill="none" stroke="#172a4c" stroke-width="2" stroke-dasharray="6.8 5.6 1.6 5.15"/>
<path d="M852,422.8 L852,461" fill="none" stroke="#172a4c" stroke-width="2" stroke-dasharray="6.8 5.6 1.6 5.15"/>
<path d="M118.3,461.5 L866,461.5" fill="none" stroke="#1d3b6a" stroke-width="2.2"/>
<path d="M858,457.5 L866.5,461.7 L858,466" fill="none" stroke="#1d3b6a" stroke-width="2.2" stroke-linejoin="miter"/>
<path d="M118.3,462.5 L118.3,94.5" fill="none" stroke="#1d3b6a" stroke-width="2.2"/>
<path d="M114,101.5 L118.3,94.5 L122.6,101.5" fill="none" stroke="#1d3b6a" stroke-width="2.2"/>
</svg>
<div class="yl" id="YL">碳<br>排<br>放<br>总<br>量<br><span class="pc">(%)</span></div>
<div class="yn" id="y100" style="top:126.8px">100</div>
<div class="yn" id="y80" style="top:192.8px">80</div>
<div class="yn" id="y60" style="top:258.0px">60</div>
<div class="yn" id="y40" style="top:322.6px">40</div>
<div class="yn" id="y20" style="top:387.6px">20</div>
<div class="yn" id="y0" style="top:452.0px">0</div>
<div class="xn" id="x2019" style="left:86.5px">2019</div>
<div class="xn" id="x2025" style="left:208.4px">2025</div>
<div class="xn" id="x2030" style="left:333.0px">2030</div>
<div class="xn" id="x2040" style="left:575.4px">2040</div>
<div class="xn" id="x2050" style="left:818.5px">2050</div>
<div class="rl" id="L1" style="left:613.0px;top:144.0px;font-size:14.5px;transform:rotate(3.60deg)"><i>铁</i><i>素</i><i>资</i><i>源</i><i>优</i><i>化</i><i>，</i>13%</div>
<div class="rl" id="L2" style="left:594.5px;top:172.7px;font-size:14.5px;transform:rotate(8.20deg)"><i>流</i><i>程</i><i>优</i><i>化</i><i>重</i><i>构</i><i>，</i>18%</div>
<div class="rl" id="L3" style="left:563.3px;top:208.7px;font-size:14.5px;transform:rotate(11.30deg)"><i>系</i><i>统</i><i>能</i><i>效</i><i>提</i><i>升</i><i>，</i>34%</div>
<div class="rl" id="L4" style="left:575.7px;top:248.1px;font-size:14.5px;transform:rotate(15.20deg)"><i>用</i><i>能</i><i>结</i><i>构</i><i>优</i><i>化</i><i>，</i>11%</div>
<div class="rl" id="L5" style="left:579.9px;top:281.1px;font-size:14.5px;transform:rotate(17.50deg)"><i>低</i><i>碳</i><i>技</i><i>术</i><i>变</i><i>革</i><i>，</i>17%</div>
<div class="rl" id="L6" style="left:615.5px;top:313.0px;font-size:14.5px;transform:rotate(23.20deg)"><i>产</i><i>业</i><i>耦</i><i>合</i><i>降</i><i>碳</i><i>，</i>7%</div>
<div class="per" id="P1" style="left:133px"><i>碳</i><i>达</i><i>峰</i><i>平</i><i>台</i><i>期</i></div>
<div class="per" id="P2" style="left:262px"><i>稳</i><i>步</i><i>下</i><i>降</i><i>期</i></div>
<div class="per" id="P3" style="left:502px"><i>深</i><i>度</i><i>脱</i><i>碳</i><i>期</i></div>
<div class="per" id="NF" style="left:470.6px;top:482px;--w:15px"><i>年</i><i>份</i></div>
<div class="bar1"></div><div class="bar2"></div>
</body></html>
